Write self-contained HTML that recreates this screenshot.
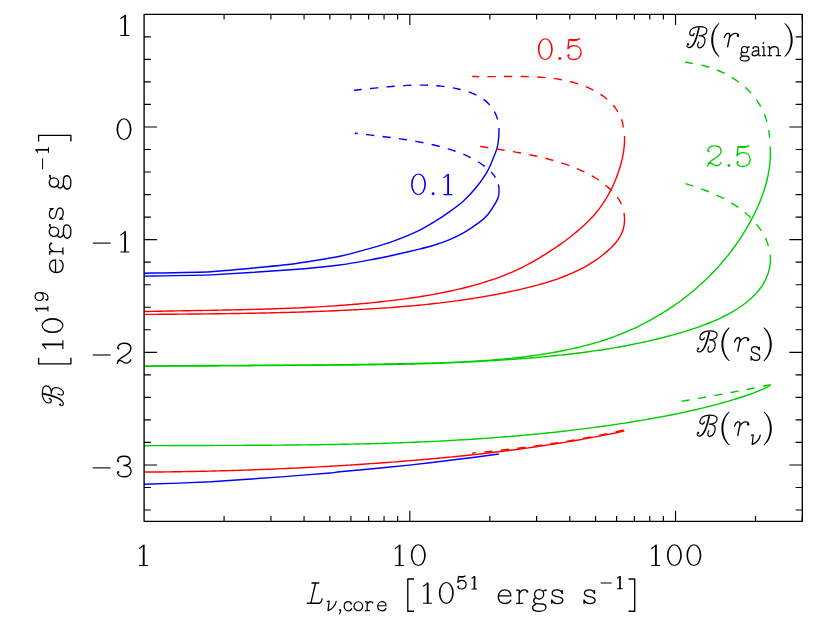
<!DOCTYPE html><html><head><meta charset="utf-8"><title>plot</title>
<style>html,body{margin:0;padding:0;background:#fff;overflow:hidden;}svg{display:block;position:absolute;left:0;top:0;}text{font-family:"Liberation Serif",serif;}.t{fill:#000;stroke:#fff;stroke-width:0.55px;}.c{fill:none;stroke-width:1.4;stroke-linecap:butt;stroke-linejoin:round;}</style></head><body>
<svg width="830" height="624" viewBox="0 0 830 624">
<desc>Plot of B [10^19 ergs g^-1] versus L_nu,core [10^51 ergs s^-1] (log axis 1, 10, 100; y axis 1, 0, -1, -2, -3). Curves labelled 0.1 (blue), 0.5 (red), 2.5 (green) for B(r_gain), B(r_S), B(r_nu).</desc>
<rect x="0" y="0" width="830" height="624" fill="#fff"/>
<g transform="translate(0,0.4)">
<path class="c" d="M354.00,89.90 C354.68,89.81 356.73,89.53 358.10,89.37 C359.46,89.22 360.82,89.11 362.19,88.98 C363.56,88.85 364.92,88.71 366.29,88.57 C367.66,88.43 369.03,88.29 370.41,88.15 C371.78,88.01 373.15,87.87 374.53,87.73 C375.91,87.59 377.28,87.45 378.66,87.31 C380.04,87.17 381.42,87.04 382.80,86.90 C384.18,86.77 385.57,86.63 386.95,86.51 C388.33,86.38 389.72,86.25 391.10,86.13 C392.48,86.02 393.87,85.90 395.26,85.79 C396.64,85.68 398.03,85.58 399.41,85.48 C400.80,85.39 402.19,85.29 403.57,85.21 C404.96,85.13 406.35,85.06 407.73,84.99 C409.12,84.93 410.51,84.87 411.89,84.83 C413.28,84.78 414.66,84.74 416.05,84.72 C417.43,84.70 418.82,84.68 420.20,84.68 C421.59,84.68 422.97,84.69 424.35,84.71 C425.73,84.74 427.11,84.77 428.49,84.82 C429.87,84.88 431.25,84.94 432.63,85.02 C434.01,85.10 435.38,85.20 436.76,85.31 C438.13,85.43 439.51,85.55 440.88,85.70 C442.25,85.85 443.62,86.01 444.99,86.19 C446.35,86.38 447.72,86.58 449.08,86.80 C450.45,87.02 451.81,87.26 453.17,87.52 C454.53,87.78 455.88,88.06 457.24,88.37 C458.59,88.67 459.95,88.99 461.29,89.34 C462.64,89.69 463.99,90.06 465.32,90.46 C466.66,90.86 467.99,91.29 469.29,91.75 C470.60,92.22 471.90,92.71 473.17,93.25 C474.44,93.78 475.70,94.35 476.92,94.97 C478.14,95.59 479.34,96.25 480.50,96.96 C481.66,97.67 482.80,98.43 483.89,99.24 C484.98,100.06 486.03,100.92 487.04,101.85 C488.05,102.77 489.01,103.76 489.92,104.80 C490.83,105.84 491.69,106.93 492.48,108.08 C493.27,109.23 494.01,110.43 494.68,111.68 C495.34,112.93 495.95,114.25 496.45,115.57 C496.96,116.89 497.49,118.93 497.70,119.60" stroke="#0000ff" stroke-dasharray="8.3 8.3" stroke-dashoffset="0.5"/>
<path class="c" d="M499.00,127.70 C498.98,128.36 498.90,134.67 498.80,136.00 C498.70,137.33 498.00,143.18 497.80,144.30 C497.60,145.42 497.12,147.88 496.30,150.00 C495.48,152.12 489.10,167.85 487.50,170.80 C485.90,173.75 478.22,184.52 476.30,186.90 C474.38,189.28 465.68,198.52 463.50,200.50 C461.32,202.48 451.31,210.04 449.00,211.70 C446.69,213.36 437.06,219.80 434.60,221.30 C432.14,222.80 421.53,228.96 418.30,230.50 C415.07,232.04 398.06,239.10 394.20,240.50 C390.34,241.90 374.44,246.78 370.10,248.00 C365.76,249.22 346.36,254.53 340.00,255.80 C333.64,257.07 300.92,262.66 290.60,263.90 C280.28,265.14 222.72,270.59 211.00,271.30 C199.28,272.01 149.45,272.68 144.10,272.80" stroke="#0000ff"/>
<path class="c" d="M354.90,132.80 C355.60,132.87 357.70,133.09 359.09,133.25 C360.47,133.41 361.83,133.60 363.20,133.77 C364.57,133.94 365.95,134.11 367.33,134.27 C368.71,134.44 370.09,134.61 371.47,134.78 C372.85,134.94 374.23,135.11 375.62,135.28 C377.00,135.45 378.39,135.61 379.78,135.78 C381.17,135.95 382.56,136.12 383.94,136.29 C385.33,136.47 386.73,136.64 388.12,136.82 C389.51,136.99 390.90,137.17 392.29,137.36 C393.68,137.54 395.08,137.72 396.47,137.91 C397.86,138.11 399.25,138.30 400.64,138.50 C402.04,138.70 403.43,138.90 404.82,139.11 C406.21,139.32 407.60,139.54 408.99,139.76 C410.38,139.98 411.77,140.21 413.15,140.44 C414.54,140.68 415.93,140.92 417.31,141.17 C418.69,141.42 420.08,141.68 421.46,141.94 C422.84,142.21 424.22,142.48 425.59,142.77 C426.97,143.05 428.34,143.34 429.72,143.65 C431.09,143.95 432.46,144.26 433.82,144.59 C435.19,144.91 436.55,145.24 437.91,145.59 C439.28,145.94 440.63,146.29 441.99,146.66 C443.34,147.03 444.69,147.41 446.04,147.80 C447.39,148.20 448.73,148.60 450.07,149.03 C451.41,149.45 452.74,149.88 454.07,150.33 C455.40,150.78 456.72,151.25 458.03,151.73 C459.35,152.22 460.65,152.72 461.95,153.24 C463.24,153.77 464.53,154.31 465.80,154.88 C467.07,155.44 468.33,156.03 469.58,156.64 C470.82,157.25 472.06,157.89 473.27,158.55 C474.49,159.21 475.69,159.90 476.87,160.61 C478.06,161.33 479.22,162.07 480.37,162.85 C481.51,163.62 482.64,164.43 483.75,165.26 C484.85,166.10 485.94,166.97 487.00,167.87 C488.06,168.77 489.09,169.71 490.11,170.68 C491.12,171.66 492.16,172.63 493.06,173.71 C493.96,174.80 495.09,176.62 495.50,177.20" stroke="#0000ff" stroke-dasharray="8.3 8.3" stroke-dashoffset="5.4"/>
<path class="c" d="M498.30,184.10 C498.36,184.37 498.97,186.64 499.00,187.50 C499.03,188.36 498.92,193.80 498.70,194.90 C498.48,196.00 497.20,199.72 496.30,201.30 C495.40,202.88 488.97,212.86 487.50,214.60 C486.03,216.34 479.82,221.58 477.90,223.00 C475.98,224.42 465.81,231.09 463.50,232.40 C461.19,233.71 451.31,238.42 449.00,239.40 C446.69,240.38 437.06,243.83 434.60,244.60 C432.14,245.37 421.53,248.20 418.30,249.00 C415.07,249.80 398.06,253.76 394.20,254.60 C390.34,255.44 374.44,258.70 370.10,259.50 C365.76,260.30 346.36,263.81 340.00,264.60 C333.64,265.39 300.92,268.61 290.60,269.40 C280.28,270.19 222.72,274.00 211.00,274.50 C199.28,275.00 149.45,275.60 144.10,275.70" stroke="#0000ff"/>
<path class="c" d="M144.10,483.90 C149.45,483.70 199.76,482.02 211.00,481.40 C222.24,480.78 275.08,476.90 284.60,476.20 C294.12,475.50 325.57,472.99 330.00,472.60 C334.43,472.21 335.34,471.76 340.00,471.30 C344.66,470.84 381.00,467.61 388.20,466.90 C395.40,466.19 423.06,463.21 430.00,462.40 C436.94,461.59 469.40,457.50 474.90,456.80 C480.40,456.10 496.89,453.86 498.80,453.60" stroke="#0000ff"/>
<path class="c" d="M472.20,76.10 C472.89,76.11 474.97,76.15 476.33,76.17 C477.69,76.19 479.00,76.22 480.34,76.24 C481.68,76.26 483.02,76.26 484.37,76.27 C485.72,76.28 487.07,76.28 488.43,76.27 C489.79,76.27 491.15,76.26 492.52,76.25 C493.88,76.24 495.25,76.23 496.62,76.21 C497.99,76.20 499.37,76.18 500.75,76.17 C502.12,76.15 503.50,76.14 504.89,76.12 C506.27,76.11 507.65,76.10 509.04,76.09 C510.42,76.08 511.81,76.07 513.20,76.06 C514.58,76.06 515.97,76.06 517.36,76.06 C518.75,76.07 520.14,76.07 521.53,76.09 C522.92,76.10 524.31,76.12 525.70,76.15 C527.09,76.18 528.49,76.22 529.87,76.26 C531.26,76.31 532.65,76.36 534.04,76.42 C535.42,76.48 536.81,76.56 538.19,76.64 C539.58,76.72 540.96,76.82 542.34,76.93 C543.72,77.03 545.10,77.15 546.47,77.28 C547.85,77.42 549.22,77.56 550.59,77.72 C551.96,77.89 553.32,78.06 554.68,78.25 C556.05,78.45 557.40,78.65 558.76,78.88 C560.11,79.10 561.46,79.35 562.81,79.61 C564.15,79.87 565.49,80.15 566.83,80.45 C568.16,80.75 569.49,81.06 570.82,81.40 C572.14,81.74 573.46,82.10 574.78,82.49 C576.09,82.87 577.40,83.28 578.70,83.70 C580.00,84.13 581.29,84.58 582.58,85.06 C583.86,85.54 585.15,86.04 586.42,86.57 C587.69,87.09 588.95,87.65 590.20,88.23 C591.45,88.81 592.69,89.41 593.91,90.05 C595.13,90.69 596.33,91.35 597.52,92.04 C598.70,92.74 599.86,93.46 601.00,94.21 C602.13,94.97 603.25,95.75 604.33,96.57 C605.41,97.39 606.47,98.24 607.48,99.12 C608.50,100.00 609.49,100.92 610.44,101.87 C611.39,102.82 612.31,103.80 613.18,104.82 C614.05,105.84 614.89,106.90 615.67,107.99 C616.46,109.08 617.20,110.21 617.90,111.38 C618.59,112.55 619.23,113.76 619.82,115.00 C620.41,116.25 620.96,117.53 621.43,118.86 C621.91,120.19 622.39,121.57 622.70,122.96 C623.01,124.35 623.20,126.49 623.30,127.20" stroke="#ff0000" stroke-dasharray="8.3 8.3" stroke-dashoffset="1.4"/>
<path class="c" d="M624.50,135.50 C624.51,136.18 624.58,138.21 624.56,139.56 C624.55,140.91 624.48,142.26 624.39,143.60 C624.30,144.94 624.18,146.29 624.03,147.62 C623.88,148.96 623.70,150.30 623.49,151.63 C623.28,152.96 623.05,154.28 622.79,155.61 C622.53,156.93 622.24,158.25 621.93,159.56 C621.62,160.88 621.28,162.19 620.93,163.49 C620.58,164.80 620.20,166.10 619.80,167.39 C619.40,168.69 618.99,169.98 618.55,171.26 C618.12,172.55 617.67,173.83 617.19,175.10 C616.72,176.37 616.23,177.64 615.73,178.89 C615.22,180.15 614.69,181.40 614.15,182.65 C613.60,183.89 613.04,185.12 612.46,186.35 C611.88,187.57 611.28,188.79 610.66,190.00 C610.04,191.20 609.41,192.40 608.75,193.58 C608.10,194.77 607.43,195.94 606.74,197.11 C606.05,198.27 605.34,199.42 604.61,200.56 C603.89,201.70 603.14,202.82 602.38,203.94 C601.61,205.05 600.83,206.15 600.03,207.23 C599.23,208.32 598.42,209.39 597.58,210.45 C596.74,211.50 595.89,212.54 595.02,213.57 C594.15,214.59 593.25,215.60 592.35,216.59 C591.44,217.59 590.51,218.56 589.57,219.53 C588.64,220.49 587.68,221.44 586.71,222.38 C585.74,223.31 584.76,224.24 583.77,225.15 C582.77,226.06 581.77,226.96 580.75,227.85 C579.74,228.74 578.71,229.62 577.68,230.49 C576.65,231.37 575.61,232.23 574.56,233.08 C573.51,233.94 572.45,234.78 571.39,235.62 C570.33,236.46 569.26,237.28 568.18,238.10 C567.10,238.92 566.02,239.74 564.93,240.54 C563.84,241.34 562.75,242.14 561.64,242.93 C560.54,243.72 559.44,244.50 558.32,245.27 C557.21,246.04 556.09,246.81 554.97,247.56 C553.85,248.32 552.72,249.07 551.59,249.81 C550.46,250.55 549.32,251.29 548.18,252.02 C547.04,252.75 545.90,253.47 544.75,254.18 C543.60,254.89 542.45,255.60 541.30,256.30 C540.14,257.00 538.99,257.70 537.83,258.38 C536.67,259.07 535.50,259.75 534.34,260.42 C533.17,261.09 532.00,261.76 530.82,262.41 C529.65,263.07 528.47,263.71 527.28,264.35 C526.10,264.98 524.91,265.61 523.71,266.22 C522.52,266.83 521.31,267.44 520.10,268.03 C518.89,268.62 517.68,269.19 516.45,269.76 C515.23,270.33 514.00,270.88 512.77,271.42 C511.53,271.97 510.29,272.50 509.04,273.02 C507.80,273.54 506.55,274.05 505.29,274.55 C504.03,275.05 502.77,275.53 501.50,276.01 C500.24,276.49 498.96,276.96 497.69,277.42 C496.42,277.88 495.14,278.33 493.85,278.77 C492.57,279.21 491.29,279.64 490.00,280.06 C488.71,280.49 487.42,280.90 486.12,281.31 C484.83,281.71 483.53,282.11 482.23,282.50 C480.94,282.89 479.63,283.28 478.33,283.65 C477.03,284.03 475.73,284.40 474.42,284.76 C473.12,285.12 471.81,285.48 470.51,285.82 C469.20,286.17 467.89,286.51 466.58,286.85 C465.27,287.18 463.96,287.51 462.64,287.83 C461.33,288.15 460.02,288.47 458.70,288.78 C457.39,289.09 456.07,289.39 454.75,289.69 C453.44,289.99 452.12,290.28 450.80,290.56 C449.48,290.85 448.16,291.13 446.84,291.40 C445.51,291.68 444.19,291.95 442.87,292.21 C441.54,292.48 440.22,292.73 438.89,292.99 C437.57,293.24 436.24,293.49 434.91,293.73 C433.59,293.97 432.26,294.21 430.93,294.45 C429.60,294.68 428.27,294.91 426.94,295.13 C425.61,295.36 424.28,295.58 422.94,295.79 C421.61,296.01 420.28,296.22 418.94,296.43 C417.61,296.63 416.28,296.84 414.94,297.04 C413.61,297.24 412.27,297.43 410.94,297.62 C409.60,297.81 408.26,298.00 406.93,298.19 C405.59,298.37 404.25,298.55 402.92,298.73 C401.58,298.91 400.24,299.08 398.90,299.25 C397.56,299.43 396.22,299.59 394.88,299.76 C393.55,299.92 392.21,300.09 390.87,300.25 C389.53,300.41 388.19,300.56 386.85,300.72 C385.51,300.87 384.16,301.02 382.82,301.17 C381.48,301.32 380.14,301.47 378.80,301.61 C377.46,301.75 376.12,301.89 374.77,302.03 C373.43,302.17 372.09,302.30 370.75,302.44 C369.40,302.57 368.06,302.70 366.72,302.83 C365.37,302.96 364.03,303.08 362.69,303.20 C361.34,303.33 360.00,303.45 358.65,303.56 C357.31,303.68 355.97,303.80 354.62,303.91 C353.28,304.03 351.93,304.14 350.59,304.24 C349.24,304.35 347.90,304.46 346.55,304.56 C345.20,304.67 343.86,304.77 342.51,304.87 C341.17,304.97 339.82,305.07 338.47,305.16 C337.13,305.26 335.78,305.35 334.43,305.45 C333.09,305.54 331.74,305.63 330.39,305.71 C329.04,305.80 327.70,305.89 326.35,305.97 C325.00,306.06 323.65,306.14 322.31,306.22 C320.96,306.30 319.61,306.38 318.26,306.45 C316.91,306.53 315.56,306.60 314.22,306.68 C312.87,306.75 311.52,306.82 310.17,306.89 C308.82,306.96 307.47,307.03 306.12,307.09 C304.77,307.16 303.42,307.23 302.07,307.29 C300.72,307.35 299.37,307.41 298.02,307.47 C296.67,307.53 295.32,307.59 293.97,307.65 C292.62,307.71 291.27,307.76 289.92,307.82 C288.57,307.87 287.22,307.93 285.87,307.98 C284.52,308.03 283.17,308.08 281.82,308.13 C280.47,308.18 279.12,308.23 277.77,308.27 C276.42,308.32 275.07,308.37 273.72,308.41 C272.37,308.46 271.02,308.50 269.67,308.54 C268.31,308.58 266.96,308.62 265.61,308.67 C264.26,308.71 262.91,308.75 261.56,308.78 C260.21,308.82 258.86,308.86 257.51,308.90 C256.15,308.93 254.80,308.97 253.45,309.00 C252.10,309.04 250.75,309.07 249.40,309.11 C248.05,309.14 246.70,309.17 245.34,309.20 C243.99,309.23 242.64,309.27 241.29,309.30 C239.94,309.33 238.59,309.36 237.24,309.39 C235.88,309.42 234.53,309.44 233.18,309.47 C231.83,309.50 230.48,309.53 229.13,309.55 C227.78,309.58 226.43,309.61 225.07,309.63 C223.72,309.66 222.37,309.69 221.02,309.71 C219.67,309.74 218.32,309.76 216.97,309.79 C215.62,309.81 214.27,309.84 212.92,309.86 C211.56,309.89 210.21,309.91 208.86,309.93 C207.51,309.96 206.16,309.98 204.81,310.01 C203.46,310.03 202.11,310.05 200.76,310.08 C199.41,310.10 198.06,310.12 196.71,310.15 C195.36,310.17 194.01,310.19 192.66,310.22 C191.31,310.24 189.96,310.26 188.61,310.29 C187.26,310.31 185.91,310.34 184.56,310.36 C183.21,310.38 181.86,310.41 180.51,310.43 C179.16,310.46 177.81,310.48 176.46,310.51 C175.11,310.53 173.76,310.56 172.42,310.58 C171.07,310.61 169.72,310.64 168.37,310.66 C167.02,310.69 165.67,310.72 164.32,310.74 C162.98,310.77 161.63,310.80 160.28,310.83 C158.93,310.86 157.59,310.88 156.24,310.91 C154.89,310.94 153.54,310.97 152.20,311.00 C150.85,311.04 149.50,311.08 148.16,311.10 C146.81,311.12 144.78,311.10 144.10,311.10" stroke="#ff0000"/>
<path class="c" d="M480.10,146.00 C480.79,146.11 482.85,146.44 484.22,146.65 C485.58,146.87 486.92,147.08 488.27,147.29 C489.63,147.50 490.98,147.71 492.34,147.92 C493.70,148.13 495.06,148.35 496.42,148.56 C497.78,148.77 499.14,148.99 500.50,149.20 C501.86,149.42 503.23,149.63 504.59,149.86 C505.96,150.08 507.32,150.30 508.69,150.52 C510.05,150.75 511.42,150.98 512.78,151.21 C514.15,151.44 515.51,151.68 516.88,151.92 C518.24,152.16 519.61,152.41 520.97,152.66 C522.34,152.91 523.70,153.17 525.06,153.43 C526.43,153.69 527.79,153.96 529.15,154.24 C530.51,154.51 531.87,154.80 533.23,155.08 C534.58,155.37 535.94,155.67 537.29,155.97 C538.65,156.28 540.00,156.59 541.35,156.91 C542.70,157.23 544.05,157.56 545.40,157.90 C546.74,158.24 548.09,158.59 549.43,158.95 C550.77,159.31 552.10,159.68 553.44,160.06 C554.77,160.44 556.11,160.83 557.43,161.23 C558.76,161.64 560.09,162.05 561.41,162.47 C562.73,162.90 564.05,163.34 565.36,163.79 C566.67,164.24 567.98,164.70 569.29,165.18 C570.59,165.66 571.89,166.15 573.19,166.66 C574.48,167.16 575.77,167.68 577.06,168.22 C578.34,168.75 579.61,169.31 580.88,169.88 C582.14,170.45 583.40,171.03 584.65,171.64 C585.89,172.24 587.13,172.86 588.35,173.51 C589.57,174.15 590.78,174.81 591.98,175.50 C593.17,176.18 594.36,176.88 595.52,177.61 C596.69,178.34 597.84,179.08 598.97,179.86 C600.10,180.63 601.21,181.42 602.30,182.25 C603.40,183.07 604.47,183.91 605.52,184.78 C606.57,185.65 607.60,186.55 608.61,187.48 C609.62,188.40 610.60,189.35 611.56,190.33 C612.52,191.31 613.46,192.32 614.36,193.36 C615.27,194.40 616.15,195.47 617.00,196.56 C617.86,197.66 618.74,198.77 619.47,199.96 C620.21,201.15 621.08,203.08 621.40,203.70" stroke="#ff0000" stroke-dasharray="8.3 8.3" stroke-dashoffset="0.0"/>
<path class="c" d="M624.00,212.50 C624.07,213.18 624.35,215.18 624.44,216.55 C624.52,217.93 624.56,219.36 624.50,220.74 C624.44,222.12 624.30,223.50 624.09,224.85 C623.87,226.19 623.57,227.52 623.20,228.80 C622.82,230.08 622.36,231.33 621.84,232.55 C621.32,233.77 620.71,234.95 620.06,236.10 C619.40,237.25 618.68,238.36 617.91,239.45 C617.15,240.54 616.32,241.60 615.46,242.64 C614.60,243.67 613.68,244.67 612.75,245.65 C611.81,246.64 610.84,247.59 609.84,248.52 C608.85,249.46 607.83,250.36 606.80,251.25 C605.77,252.14 604.72,253.01 603.67,253.86 C602.61,254.71 601.55,255.54 600.47,256.35 C599.39,257.16 598.30,257.95 597.20,258.72 C596.10,259.49 594.99,260.25 593.87,260.98 C592.75,261.72 591.62,262.44 590.48,263.14 C589.34,263.84 588.19,264.53 587.03,265.20 C585.87,265.86 584.71,266.52 583.53,267.15 C582.35,267.79 581.17,268.41 579.98,269.02 C578.78,269.62 577.58,270.21 576.37,270.79 C575.17,271.37 573.95,271.93 572.73,272.48 C571.50,273.03 570.27,273.56 569.04,274.08 C567.80,274.61 566.56,275.11 565.31,275.61 C564.06,276.11 562.80,276.59 561.54,277.07 C560.28,277.54 559.02,278.00 557.74,278.45 C556.47,278.90 555.20,279.34 553.92,279.77 C552.63,280.20 551.35,280.62 550.06,281.03 C548.77,281.44 547.47,281.84 546.18,282.23 C544.88,282.62 543.58,283.00 542.27,283.38 C540.97,283.75 539.66,284.12 538.35,284.48 C537.04,284.83 535.73,285.19 534.41,285.53 C533.10,285.87 531.78,286.21 530.46,286.54 C529.14,286.87 527.82,287.20 526.50,287.52 C525.18,287.83 523.86,288.15 522.54,288.46 C521.21,288.77 519.89,289.07 518.56,289.37 C517.24,289.67 515.92,289.96 514.59,290.26 C513.27,290.55 511.94,290.83 510.62,291.12 C509.29,291.40 507.96,291.68 506.64,291.95 C505.31,292.22 503.99,292.49 502.66,292.76 C501.33,293.03 500.00,293.29 498.68,293.55 C497.35,293.80 496.02,294.06 494.69,294.31 C493.37,294.56 492.04,294.80 490.71,295.04 C489.38,295.29 488.05,295.52 486.72,295.76 C485.39,295.99 484.06,296.22 482.73,296.45 C481.40,296.68 480.07,296.90 478.74,297.12 C477.41,297.34 476.08,297.56 474.75,297.77 C473.42,297.98 472.09,298.19 470.76,298.40 C469.42,298.60 468.09,298.80 466.76,299.00 C465.43,299.20 464.09,299.40 462.76,299.59 C461.43,299.78 460.10,299.97 458.76,300.15 C457.43,300.34 456.10,300.52 454.76,300.70 C453.43,300.88 452.09,301.05 450.76,301.23 C449.42,301.40 448.09,301.57 446.75,301.74 C445.42,301.90 444.08,302.07 442.75,302.23 C441.41,302.39 440.08,302.55 438.74,302.70 C437.41,302.86 436.07,303.01 434.73,303.16 C433.40,303.31 432.06,303.45 430.72,303.60 C429.39,303.74 428.05,303.88 426.71,304.02 C425.37,304.16 424.04,304.29 422.70,304.43 C421.36,304.56 420.02,304.69 418.68,304.82 C417.34,304.95 416.01,305.08 414.67,305.20 C413.33,305.32 411.99,305.44 410.65,305.56 C409.31,305.68 407.97,305.80 406.63,305.91 C405.29,306.03 403.95,306.14 402.61,306.25 C401.27,306.36 399.93,306.47 398.59,306.57 C397.25,306.68 395.91,306.78 394.57,306.88 C393.23,306.98 391.88,307.08 390.54,307.18 C389.20,307.28 387.86,307.38 386.52,307.47 C385.18,307.56 383.83,307.66 382.49,307.75 C381.15,307.84 379.81,307.93 378.46,308.01 C377.12,308.10 375.78,308.18 374.43,308.27 C373.09,308.35 371.75,308.43 370.41,308.51 C369.06,308.59 367.72,308.67 366.37,308.75 C365.03,308.83 363.69,308.90 362.34,308.98 C361.00,309.05 359.65,309.13 358.31,309.20 C356.97,309.27 355.62,309.34 354.28,309.41 C352.93,309.48 351.59,309.55 350.24,309.62 C348.90,309.68 347.55,309.75 346.21,309.81 C344.86,309.88 343.51,309.94 342.17,310.00 C340.82,310.07 339.48,310.13 338.13,310.19 C336.78,310.25 335.44,310.31 334.09,310.37 C332.75,310.43 331.40,310.48 330.05,310.54 C328.71,310.60 327.36,310.65 326.01,310.71 C324.67,310.76 323.32,310.81 321.97,310.87 C320.63,310.92 319.28,310.97 317.93,311.02 C316.58,311.07 315.24,311.12 313.89,311.17 C312.54,311.22 311.19,311.27 309.85,311.31 C308.50,311.36 307.15,311.40 305.80,311.45 C304.46,311.49 303.11,311.54 301.76,311.58 C300.41,311.63 299.06,311.67 297.72,311.71 C296.37,311.75 295.02,311.79 293.67,311.83 C292.32,311.87 290.98,311.91 289.63,311.95 C288.28,311.99 286.93,312.02 285.58,312.06 C284.23,312.10 282.89,312.13 281.54,312.17 C280.19,312.20 278.84,312.24 277.49,312.27 C276.14,312.31 274.79,312.34 273.45,312.37 C272.10,312.40 270.75,312.44 269.40,312.47 C268.05,312.50 266.70,312.53 265.35,312.56 C264.00,312.59 262.66,312.62 261.31,312.64 C259.96,312.67 258.61,312.70 257.26,312.73 C255.91,312.75 254.56,312.78 253.21,312.81 C251.87,312.83 250.52,312.86 249.17,312.88 C247.82,312.91 246.47,312.93 245.12,312.95 C243.77,312.98 242.42,313.00 241.08,313.02 C239.73,313.04 238.38,313.07 237.03,313.09 C235.68,313.11 234.33,313.13 232.98,313.15 C231.64,313.17 230.29,313.19 228.94,313.21 C227.59,313.23 226.24,313.25 224.89,313.27 C223.55,313.29 222.20,313.30 220.85,313.32 C219.50,313.34 218.15,313.36 216.80,313.37 C215.46,313.39 214.11,313.41 212.76,313.42 C211.41,313.44 210.06,313.45 208.72,313.47 C207.37,313.48 206.02,313.50 204.67,313.51 C203.33,313.53 201.98,313.54 200.63,313.56 C199.28,313.57 197.94,313.58 196.59,313.60 C195.24,313.61 193.89,313.62 192.55,313.64 C191.20,313.65 189.85,313.66 188.51,313.67 C187.16,313.69 185.81,313.70 184.47,313.71 C183.12,313.72 181.77,313.73 180.43,313.74 C179.08,313.76 177.74,313.77 176.39,313.78 C175.04,313.79 173.70,313.80 172.35,313.81 C171.01,313.82 169.66,313.83 168.32,313.84 C166.97,313.85 165.62,313.86 164.28,313.87 C162.93,313.88 161.59,313.89 160.24,313.90 C158.90,313.91 157.56,313.92 156.21,313.93 C154.87,313.94 153.52,313.95 152.18,313.96 C150.83,313.97 149.49,313.98 148.15,313.99 C146.80,314.00 144.77,314.00 144.10,314.00" stroke="#ff0000"/>
<path class="c" d="M144.10,471.60 C144.78,471.61 146.82,471.66 148.17,471.66 C149.52,471.67 150.87,471.64 152.22,471.63 C153.58,471.62 154.93,471.61 156.28,471.59 C157.63,471.58 158.98,471.57 160.34,471.55 C161.69,471.54 163.04,471.52 164.39,471.51 C165.74,471.49 167.09,471.47 168.45,471.46 C169.80,471.44 171.15,471.42 172.50,471.40 C173.85,471.39 175.20,471.37 176.56,471.35 C177.91,471.33 179.26,471.30 180.61,471.28 C181.96,471.26 183.32,471.24 184.67,471.22 C186.02,471.19 187.37,471.17 188.72,471.15 C190.08,471.12 191.43,471.10 192.78,471.07 C194.13,471.04 195.48,471.02 196.83,470.99 C198.19,470.96 199.54,470.93 200.89,470.91 C202.24,470.88 203.59,470.85 204.95,470.82 C206.30,470.79 207.65,470.76 209.00,470.72 C210.35,470.69 211.71,470.66 213.06,470.63 C214.41,470.59 215.76,470.56 217.11,470.52 C218.46,470.49 219.82,470.45 221.17,470.42 C222.52,470.38 223.87,470.34 225.22,470.31 C226.58,470.27 227.93,470.23 229.28,470.19 C230.63,470.15 231.98,470.11 233.33,470.07 C234.69,470.03 236.04,469.99 237.39,469.95 C238.74,469.90 240.09,469.86 241.45,469.82 C242.80,469.77 244.15,469.73 245.50,469.68 C246.85,469.64 248.20,469.59 249.56,469.54 C250.91,469.50 252.26,469.45 253.61,469.40 C254.96,469.35 256.31,469.30 257.67,469.25 C259.02,469.20 260.37,469.15 261.72,469.10 C263.07,469.05 264.42,469.00 265.78,468.95 C267.13,468.89 268.48,468.84 269.83,468.78 C271.18,468.73 272.53,468.67 273.88,468.62 C275.24,468.56 276.59,468.51 277.94,468.45 C279.29,468.39 280.64,468.33 281.99,468.27 C283.34,468.21 284.70,468.15 286.05,468.09 C287.40,468.03 288.75,467.97 290.10,467.91 C291.45,467.85 292.80,467.78 294.15,467.72 C295.51,467.66 296.86,467.59 298.21,467.53 C299.56,467.46 300.91,467.40 302.26,467.33 C303.61,467.26 304.96,467.19 306.31,467.13 C307.67,467.06 309.02,466.99 310.37,466.92 C311.72,466.85 313.07,466.78 314.42,466.71 C315.77,466.63 317.12,466.56 318.47,466.49 C319.82,466.41 321.17,466.34 322.53,466.27 C323.88,466.19 325.23,466.12 326.58,466.04 C327.93,465.96 329.28,465.89 330.63,465.81 C331.98,465.73 333.33,465.65 334.68,465.57 C336.03,465.49 337.38,465.41 338.73,465.33 C340.08,465.25 341.43,465.17 342.78,465.09 C344.13,465.00 345.49,464.92 346.84,464.83 C348.19,464.75 349.54,464.66 350.89,464.58 C352.24,464.49 353.59,464.41 354.94,464.32 C356.29,464.23 357.64,464.14 358.99,464.05 C360.34,463.96 361.69,463.87 363.04,463.78 C364.39,463.69 365.74,463.60 367.09,463.51 C368.44,463.42 369.79,463.32 371.14,463.23 C372.49,463.14 373.83,463.04 375.18,462.94 C376.53,462.85 377.88,462.75 379.23,462.66 C380.58,462.56 381.93,462.46 383.28,462.36 C384.63,462.26 385.98,462.16 387.33,462.06 C388.68,461.96 390.03,461.86 391.38,461.76 C392.73,461.66 394.08,461.55 395.42,461.45 C396.77,461.34 398.12,461.24 399.47,461.13 C400.82,461.03 402.17,460.92 403.52,460.81 C404.87,460.71 406.21,460.60 407.56,460.49 C408.91,460.38 410.26,460.27 411.61,460.16 C412.96,460.05 414.31,459.93 415.65,459.82 C417.00,459.71 418.35,459.59 419.70,459.48 C421.05,459.36 422.39,459.25 423.74,459.13 C425.09,459.01 426.44,458.89 427.79,458.78 C429.13,458.66 430.48,458.54 431.83,458.41 C433.18,458.29 434.52,458.17 435.87,458.05 C437.22,457.92 438.56,457.80 439.91,457.67 C441.26,457.55 442.60,457.42 443.95,457.29 C445.30,457.16 446.64,457.03 447.99,456.90 C449.34,456.77 450.68,456.64 452.03,456.51 C453.38,456.37 454.72,456.24 456.07,456.10 C457.41,455.97 458.76,455.83 460.10,455.69 C461.45,455.56 462.80,455.42 464.14,455.28 C465.49,455.14 466.83,454.99 468.18,454.85 C469.52,454.71 470.86,454.56 472.21,454.42 C473.55,454.27 474.90,454.13 476.24,453.98 C477.59,453.83 478.93,453.68 480.27,453.53 C481.62,453.38 482.96,453.22 484.31,453.07 C485.65,452.92 486.99,452.76 488.34,452.60 C489.68,452.45 491.02,452.29 492.36,452.13 C493.71,451.97 495.05,451.81 496.39,451.65 C497.73,451.48 499.08,451.32 500.42,451.15 C501.76,450.99 503.10,450.82 504.44,450.65 C505.78,450.48 507.13,450.31 508.47,450.14 C509.81,449.97 511.15,449.80 512.49,449.62 C513.83,449.45 515.17,449.27 516.51,449.09 C517.85,448.91 519.19,448.73 520.53,448.55 C521.87,448.37 523.21,448.19 524.55,448.00 C525.89,447.82 527.23,447.63 528.56,447.44 C529.90,447.26 531.24,447.07 532.58,446.88 C533.92,446.68 535.26,446.49 536.59,446.30 C537.93,446.10 539.27,445.91 540.61,445.71 C541.94,445.51 543.28,445.31 544.62,445.11 C545.95,444.90 547.29,444.70 548.63,444.50 C549.96,444.29 551.30,444.08 552.63,443.87 C553.97,443.67 555.30,443.45 556.64,443.24 C557.97,443.03 559.31,442.81 560.64,442.60 C561.98,442.38 563.31,442.16 564.65,441.94 C565.98,441.72 567.31,441.50 568.65,441.28 C569.98,441.05 571.31,440.83 572.65,440.60 C573.98,440.37 575.31,440.14 576.64,439.91 C577.97,439.68 579.31,439.44 580.64,439.21 C581.97,438.97 583.30,438.73 584.63,438.49 C585.96,438.25 587.29,438.01 588.62,437.77 C589.95,437.52 591.28,437.28 592.61,437.03 C593.94,436.78 595.27,436.53 596.60,436.28 C597.93,436.03 599.25,435.77 600.58,435.52 C601.91,435.26 603.24,435.00 604.57,434.74 C605.89,434.48 607.22,434.22 608.55,433.95 C609.87,433.69 611.20,433.42 612.53,433.15 C613.85,432.88 615.18,432.61 616.50,432.33 C617.83,432.06 619.16,431.83 620.48,431.51 C621.79,431.18 623.75,430.58 624.40,430.40" stroke="#ff0000"/>
<path class="c" d="M471.90,452.70 C472.59,452.64 474.67,452.45 476.05,452.32 C477.44,452.19 478.82,452.06 480.21,451.92 C481.59,451.79 482.98,451.66 484.36,451.52 C485.74,451.39 487.13,451.25 488.51,451.11 C489.90,450.97 491.28,450.83 492.66,450.68 C494.05,450.54 495.43,450.39 496.81,450.24 C498.20,450.10 499.58,449.95 500.96,449.79 C502.34,449.64 503.73,449.49 505.11,449.33 C506.49,449.18 507.87,449.02 509.25,448.86 C510.64,448.70 512.02,448.54 513.40,448.37 C514.78,448.21 516.16,448.04 517.54,447.87 C518.92,447.71 520.30,447.53 521.68,447.36 C523.06,447.19 524.44,447.01 525.82,446.84 C527.20,446.66 528.58,446.48 529.96,446.30 C531.34,446.11 532.72,445.93 534.10,445.74 C535.48,445.55 536.85,445.36 538.23,445.17 C539.61,444.98 540.99,444.79 542.36,444.59 C543.74,444.39 545.12,444.19 546.49,443.99 C547.87,443.79 549.25,443.59 550.62,443.38 C552.00,443.17 553.37,442.96 554.75,442.75 C556.12,442.54 557.49,442.32 558.87,442.10 C560.24,441.89 561.61,441.67 562.99,441.44 C564.36,441.22 565.73,440.99 567.10,440.77 C568.48,440.54 569.85,440.31 571.22,440.07 C572.59,439.84 573.96,439.60 575.33,439.36 C576.70,439.12 578.07,438.88 579.44,438.63 C580.81,438.39 582.18,438.14 583.54,437.89 C584.91,437.64 586.28,437.38 587.65,437.12 C589.01,436.87 590.38,436.60 591.74,436.34 C593.11,436.08 594.47,435.81 595.84,435.54 C597.20,435.27 598.57,435.00 599.93,434.72 C601.29,434.45 602.66,434.17 604.02,433.88 C605.38,433.60 606.74,433.32 608.10,433.03 C609.46,432.74 610.82,432.45 612.18,432.15 C613.54,431.85 614.90,431.56 616.26,431.25 C617.62,430.95 618.97,430.65 620.33,430.34 C621.69,430.03 623.72,429.56 624.40,429.40" stroke="#ff0000" stroke-dasharray="8.3 8.3" stroke-dashoffset="4.2"/>
<path class="c" d="M684.90,61.70 C685.59,61.81 687.66,62.16 689.06,62.38 C690.45,62.61 691.85,62.79 693.25,63.03 C694.65,63.27 696.05,63.54 697.45,63.83 C698.84,64.12 700.24,64.44 701.63,64.78 C703.02,65.12 704.41,65.49 705.80,65.88 C707.18,66.28 708.56,66.70 709.93,67.14 C711.30,67.59 712.66,68.06 714.01,68.56 C715.37,69.05 716.71,69.58 718.04,70.12 C719.37,70.67 720.70,71.25 722.00,71.85 C723.31,72.45 724.60,73.08 725.88,73.73 C727.16,74.38 728.42,75.06 729.67,75.77 C730.91,76.47 732.14,77.20 733.35,77.96 C734.56,78.72 735.75,79.51 736.92,80.32 C738.09,81.13 739.24,81.96 740.36,82.83 C741.48,83.69 742.58,84.58 743.66,85.50 C744.73,86.41 745.79,87.36 746.81,88.33 C747.83,89.30 748.83,90.30 749.80,91.32 C750.76,92.34 751.70,93.39 752.61,94.47 C753.51,95.54 754.39,96.65 755.24,97.77 C756.08,98.90 756.89,100.05 757.67,101.23 C758.45,102.40 759.20,103.60 759.90,104.82 C760.61,106.04 761.29,107.28 761.93,108.54 C762.57,109.81 763.17,111.09 763.73,112.40 C764.29,113.70 764.82,115.02 765.31,116.37 C765.79,117.71 766.24,119.07 766.64,120.45 C767.05,121.82 767.41,123.22 767.74,124.63 C768.06,126.04 768.34,127.47 768.57,128.91 C768.81,130.35 768.97,131.85 769.15,133.28 C769.32,134.71 769.52,136.80 769.60,137.50" stroke="#00cd00" stroke-dasharray="8.3 8.3" stroke-dashoffset="0.0"/>
<path class="c" d="M770.20,146.00 C770.23,146.68 770.33,148.70 770.36,150.06 C770.39,151.41 770.39,152.78 770.37,154.14 C770.35,155.50 770.30,156.85 770.22,158.20 C770.15,159.54 770.05,160.89 769.93,162.22 C769.81,163.56 769.66,164.90 769.49,166.23 C769.33,167.56 769.14,168.88 768.92,170.20 C768.71,171.52 768.47,172.84 768.22,174.15 C767.96,175.46 767.69,176.77 767.39,178.07 C767.09,179.37 766.77,180.67 766.44,181.96 C766.10,183.25 765.74,184.54 765.37,185.82 C765.00,187.10 764.60,188.38 764.19,189.65 C763.78,190.92 763.36,192.19 762.91,193.45 C762.47,194.72 762.01,195.97 761.53,197.23 C761.05,198.48 760.56,199.73 760.05,200.97 C759.55,202.21 759.03,203.45 758.49,204.68 C757.95,205.91 757.40,207.14 756.84,208.36 C756.28,209.58 755.70,210.79 755.11,212.00 C754.53,213.22 753.93,214.42 753.31,215.62 C752.70,216.82 752.08,218.01 751.45,219.20 C750.81,220.39 750.17,221.57 749.52,222.75 C748.86,223.93 748.20,225.10 747.52,226.27 C746.85,227.43 746.16,228.59 745.47,229.75 C744.77,230.90 744.07,232.05 743.35,233.19 C742.64,234.33 741.91,235.47 741.18,236.60 C740.45,237.73 739.70,238.85 738.95,239.97 C738.19,241.08 737.43,242.19 736.66,243.30 C735.88,244.40 735.10,245.50 734.31,246.59 C733.52,247.68 732.72,248.76 731.91,249.84 C731.10,250.91 730.28,251.98 729.46,253.05 C728.63,254.11 727.79,255.16 726.95,256.21 C726.10,257.26 725.25,258.30 724.39,259.34 C723.52,260.37 722.65,261.40 721.77,262.42 C720.90,263.44 720.01,264.45 719.11,265.45 C718.22,266.45 717.31,267.45 716.40,268.44 C715.49,269.43 714.57,270.41 713.64,271.38 C712.72,272.35 711.78,273.32 710.84,274.28 C709.90,275.23 708.95,276.18 707.99,277.12 C707.03,278.06 706.06,278.99 705.09,279.92 C704.12,280.84 703.14,281.76 702.15,282.67 C701.16,283.57 700.17,284.47 699.17,285.36 C698.17,286.26 697.16,287.14 696.14,288.01 C695.13,288.89 694.10,289.76 693.07,290.62 C692.05,291.48 691.01,292.33 689.97,293.17 C688.92,294.01 687.88,294.85 686.82,295.67 C685.76,296.50 684.70,297.32 683.63,298.13 C682.56,298.94 681.49,299.75 680.41,300.54 C679.33,301.34 678.24,302.12 677.15,302.90 C676.05,303.68 674.95,304.45 673.85,305.21 C672.74,305.98 671.63,306.73 670.52,307.48 C669.40,308.23 668.28,308.97 667.15,309.70 C666.02,310.43 664.89,311.15 663.75,311.87 C662.61,312.58 661.46,313.29 660.31,313.99 C659.16,314.69 658.01,315.38 656.85,316.06 C655.69,316.74 654.52,317.41 653.35,318.08 C652.18,318.74 651.00,319.40 649.82,320.05 C648.64,320.69 647.46,321.33 646.27,321.96 C645.08,322.59 643.88,323.21 642.68,323.82 C641.48,324.43 640.28,325.04 639.07,325.63 C637.86,326.22 636.65,326.81 635.43,327.38 C634.22,327.96 633.00,328.52 631.77,329.08 C630.55,329.63 629.32,330.18 628.08,330.72 C626.85,331.25 625.61,331.78 624.37,332.30 C623.13,332.81 621.89,333.32 620.64,333.82 C619.39,334.32 618.14,334.80 616.89,335.28 C615.63,335.76 614.37,336.23 613.11,336.68 C611.85,337.14 610.58,337.59 609.32,338.03 C608.05,338.47 606.78,338.90 605.50,339.32 C604.23,339.74 602.95,340.15 601.67,340.56 C600.39,340.96 599.11,341.35 597.82,341.74 C596.54,342.13 595.25,342.51 593.96,342.88 C592.67,343.25 591.37,343.61 590.08,343.96 C588.78,344.32 587.49,344.66 586.19,345.00 C584.89,345.34 583.59,345.67 582.28,346.00 C580.98,346.32 579.67,346.64 578.37,346.95 C577.06,347.26 575.75,347.56 574.44,347.86 C573.13,348.15 571.81,348.44 570.50,348.72 C569.19,349.01 567.87,349.28 566.56,349.55 C565.24,349.83 563.92,350.09 562.60,350.35 C561.28,350.61 559.96,350.86 558.64,351.11 C557.32,351.36 556.00,351.60 554.68,351.83 C553.35,352.07 552.03,352.30 550.71,352.53 C549.38,352.75 548.06,352.98 546.73,353.19 C545.41,353.41 544.08,353.62 542.75,353.83 C541.43,354.03 540.10,354.24 538.77,354.43 C537.44,354.63 536.11,354.82 534.79,355.01 C533.46,355.20 532.13,355.38 530.80,355.56 C529.47,355.74 528.13,355.92 526.80,356.09 C525.47,356.26 524.14,356.42 522.81,356.59 C521.47,356.75 520.14,356.91 518.81,357.06 C517.47,357.21 516.14,357.36 514.81,357.51 C513.47,357.66 512.14,357.80 510.80,357.94 C509.47,358.07 508.13,358.21 506.79,358.34 C505.46,358.47 504.12,358.60 502.78,358.72 C501.45,358.84 500.11,358.96 498.77,359.08 C497.43,359.20 496.09,359.31 494.75,359.42 C493.42,359.53 492.08,359.64 490.74,359.74 C489.40,359.85 488.06,359.95 486.72,360.04 C485.38,360.14 484.04,360.24 482.69,360.33 C481.35,360.42 480.01,360.51 478.67,360.59 C477.33,360.68 475.99,360.76 474.65,360.84 C473.30,360.92 471.96,361.00 470.62,361.08 C469.28,361.15 467.93,361.22 466.59,361.29 C465.25,361.36 463.90,361.43 462.56,361.50 C461.22,361.56 459.87,361.63 458.53,361.69 C457.18,361.75 455.84,361.81 454.50,361.87 C453.15,361.92 451.81,361.98 450.46,362.03 C449.12,362.08 447.77,362.13 446.43,362.18 C445.08,362.23 443.74,362.28 442.39,362.33 C441.05,362.37 439.70,362.42 438.36,362.46 C437.01,362.50 435.67,362.54 434.32,362.58 C432.98,362.62 431.63,362.66 430.28,362.70 C428.94,362.74 427.59,362.77 426.25,362.81 C424.90,362.84 423.56,362.88 422.21,362.91 C420.87,362.94 419.52,362.97 418.17,363.00 C416.83,363.03 415.48,363.06 414.14,363.09 C412.79,363.12 411.45,363.15 410.10,363.18 C408.76,363.21 407.41,363.23 406.06,363.26 C404.72,363.28 403.37,363.31 402.03,363.34 C400.68,363.36 399.34,363.39 397.99,363.41 C396.65,363.44 395.30,363.46 393.96,363.49 C392.62,363.51 391.27,363.53 389.93,363.56 C388.58,363.58 387.24,363.61 385.89,363.63 C384.55,363.65 383.21,363.68 381.86,363.70 C380.52,363.72 379.17,363.74 377.83,363.77 C376.49,363.79 375.14,363.81 373.80,363.83 C372.46,363.86 371.11,363.88 369.77,363.90 C368.43,363.92 367.08,363.94 365.74,363.96 C364.40,363.99 363.05,364.01 361.71,364.03 C360.37,364.05 359.03,364.07 357.68,364.09 C356.34,364.11 355.00,364.13 353.66,364.15 C352.31,364.17 350.97,364.19 349.63,364.21 C348.29,364.23 346.94,364.25 345.60,364.27 C344.26,364.29 342.92,364.31 341.57,364.32 C340.23,364.34 338.89,364.36 337.55,364.38 C336.21,364.40 334.86,364.42 333.52,364.43 C332.18,364.45 330.84,364.47 329.50,364.49 C328.16,364.51 326.81,364.52 325.47,364.54 C324.13,364.56 322.79,364.57 321.45,364.59 C320.11,364.61 318.76,364.62 317.42,364.64 C316.08,364.66 314.74,364.67 313.40,364.69 C312.06,364.71 310.71,364.72 309.37,364.74 C308.03,364.75 306.69,364.77 305.35,364.78 C304.01,364.80 302.67,364.81 301.32,364.83 C299.98,364.84 298.64,364.86 297.30,364.87 C295.96,364.89 294.62,364.90 293.28,364.92 C291.93,364.93 290.59,364.94 289.25,364.96 C287.91,364.97 286.57,364.99 285.23,365.00 C283.89,365.01 282.54,365.03 281.20,365.04 C279.86,365.05 278.52,365.06 277.18,365.08 C275.84,365.09 274.50,365.10 273.15,365.11 C271.81,365.13 270.47,365.14 269.13,365.15 C267.79,365.16 266.45,365.17 265.10,365.19 C263.76,365.20 262.42,365.21 261.08,365.22 C259.74,365.23 258.40,365.24 257.05,365.25 C255.71,365.26 254.37,365.28 253.03,365.29 C251.69,365.30 250.34,365.31 249.00,365.32 C247.66,365.33 246.32,365.34 244.98,365.35 C243.63,365.36 242.29,365.37 240.95,365.38 C239.61,365.39 238.26,365.40 236.92,365.40 C235.58,365.41 234.24,365.42 232.89,365.43 C231.55,365.44 230.21,365.45 228.87,365.46 C227.52,365.47 226.18,365.47 224.84,365.48 C223.49,365.49 222.15,365.50 220.81,365.51 C219.46,365.52 218.12,365.52 216.78,365.53 C215.43,365.54 214.09,365.55 212.75,365.55 C211.40,365.56 210.06,365.57 208.72,365.57 C207.37,365.58 206.03,365.59 204.68,365.60 C203.34,365.60 202.00,365.61 200.65,365.61 C199.31,365.62 197.96,365.63 196.62,365.63 C195.27,365.64 193.93,365.65 192.58,365.65 C191.24,365.66 189.89,365.66 188.55,365.67 C187.20,365.67 185.86,365.68 184.51,365.68 C183.17,365.69 181.82,365.69 180.48,365.70 C179.13,365.70 177.78,365.71 176.44,365.71 C175.09,365.72 173.75,365.72 172.40,365.73 C171.05,365.73 169.71,365.74 168.36,365.74 C167.01,365.74 165.67,365.75 164.32,365.75 C162.97,365.76 161.62,365.76 160.28,365.76 C158.93,365.77 157.58,365.77 156.23,365.77 C154.89,365.78 153.54,365.78 152.19,365.78 C150.84,365.78 149.49,365.79 148.15,365.79 C146.80,365.79 144.77,365.80 144.10,365.80" stroke="#00cd00"/>
<path class="c" d="M685.40,183.30 C686.06,183.50 688.05,184.08 689.36,184.48 C690.66,184.88 691.95,185.28 693.25,185.70 C694.55,186.12 695.86,186.55 697.17,187.00 C698.48,187.44 699.79,187.90 701.10,188.37 C702.41,188.84 703.72,189.33 705.03,189.83 C706.34,190.33 707.65,190.84 708.96,191.37 C710.26,191.90 711.56,192.44 712.86,193.00 C714.16,193.56 715.45,194.14 716.73,194.73 C718.02,195.32 719.30,195.93 720.56,196.55 C721.83,197.18 723.09,197.82 724.34,198.48 C725.59,199.14 726.83,199.81 728.06,200.51 C729.28,201.20 730.50,201.91 731.70,202.65 C732.89,203.38 734.08,204.13 735.25,204.90 C736.42,205.67 737.57,206.46 738.71,207.27 C739.84,208.08 740.96,208.91 742.06,209.76 C743.16,210.61 744.24,211.48 745.29,212.38 C746.35,213.27 747.39,214.18 748.40,215.12 C749.41,216.06 750.40,217.02 751.36,218.00 C752.32,218.98 753.26,219.98 754.18,221.01 C755.09,222.04 755.97,223.09 756.83,224.17 C757.68,225.24 758.51,226.34 759.31,227.47 C760.10,228.59 760.87,229.74 761.60,230.91 C762.34,232.09 763.04,233.29 763.71,234.52 C764.37,235.74 765.01,236.99 765.60,238.27 C766.20,239.55 766.79,240.87 767.29,242.19 C767.78,243.51 768.38,245.53 768.60,246.20" stroke="#00cd00" stroke-dasharray="8.3 8.3" stroke-dashoffset="0.0"/>
<path class="c" d="M770.20,254.30 C770.25,254.98 770.51,257.00 770.53,258.40 C770.54,259.79 770.42,261.28 770.28,262.68 C770.14,264.08 769.94,265.46 769.68,266.81 C769.43,268.15 769.12,269.48 768.76,270.78 C768.40,272.07 767.99,273.35 767.53,274.59 C767.07,275.84 766.56,277.06 766.01,278.26 C765.46,279.46 764.87,280.63 764.23,281.78 C763.60,282.93 762.92,284.05 762.20,285.15 C761.49,286.25 760.73,287.32 759.95,288.37 C759.16,289.43 758.34,290.45 757.48,291.46 C756.63,292.46 755.75,293.44 754.83,294.40 C753.92,295.35 752.98,296.29 752.01,297.20 C751.05,298.11 750.06,299.00 749.04,299.87 C748.03,300.74 746.99,301.59 745.93,302.41 C744.87,303.24 743.79,304.05 742.69,304.84 C741.60,305.62 740.48,306.39 739.35,307.14 C738.22,307.89 737.07,308.63 735.92,309.34 C734.76,310.05 733.59,310.75 732.40,311.43 C731.22,312.11 730.03,312.78 728.83,313.43 C727.63,314.08 726.42,314.71 725.21,315.33 C724.00,315.95 722.78,316.55 721.55,317.14 C720.33,317.73 719.10,318.30 717.86,318.87 C716.63,319.43 715.38,319.98 714.14,320.52 C712.89,321.06 711.64,321.58 710.39,322.09 C709.13,322.61 707.88,323.11 706.61,323.60 C705.35,324.09 704.08,324.57 702.81,325.04 C701.54,325.51 700.27,325.97 698.99,326.42 C697.71,326.87 696.43,327.32 695.15,327.75 C693.87,328.18 692.58,328.61 691.30,329.02 C690.01,329.44 688.72,329.85 687.43,330.25 C686.13,330.66 684.84,331.05 683.54,331.44 C682.25,331.83 680.95,332.21 679.65,332.59 C678.36,332.97 677.06,333.34 675.76,333.71 C674.46,334.08 673.15,334.44 671.85,334.80 C670.55,335.15 669.25,335.51 667.94,335.85 C666.64,336.20 665.33,336.54 664.03,336.88 C662.72,337.21 661.41,337.55 660.10,337.87 C658.79,338.20 657.48,338.52 656.17,338.84 C654.86,339.16 653.55,339.47 652.24,339.77 C650.93,340.08 649.61,340.39 648.30,340.68 C646.99,340.98 645.67,341.28 644.35,341.56 C643.04,341.85 641.72,342.14 640.40,342.42 C639.09,342.70 637.77,342.97 636.45,343.25 C635.13,343.52 633.81,343.78 632.49,344.05 C631.17,344.31 629.84,344.57 628.52,344.82 C627.20,345.08 625.88,345.33 624.55,345.57 C623.23,345.82 621.90,346.06 620.58,346.30 C619.25,346.54 617.93,346.77 616.60,347.01 C615.27,347.24 613.94,347.46 612.62,347.69 C611.29,347.91 609.96,348.13 608.63,348.34 C607.30,348.56 605.97,348.77 604.64,348.98 C603.31,349.19 601.98,349.39 600.64,349.60 C599.31,349.80 597.98,350.00 596.65,350.19 C595.31,350.39 593.98,350.58 592.64,350.77 C591.31,350.95 589.98,351.14 588.64,351.32 C587.30,351.50 585.97,351.68 584.63,351.86 C583.30,352.03 581.96,352.21 580.62,352.38 C579.29,352.54 577.95,352.71 576.61,352.88 C575.27,353.04 573.93,353.20 572.59,353.36 C571.26,353.52 569.92,353.67 568.58,353.83 C567.24,353.98 565.90,354.13 564.56,354.28 C563.22,354.42 561.88,354.57 560.53,354.71 C559.19,354.85 557.85,354.99 556.51,355.13 C555.17,355.27 553.83,355.40 552.48,355.54 C551.14,355.67 549.80,355.80 548.46,355.93 C547.12,356.06 545.77,356.19 544.43,356.31 C543.09,356.43 541.74,356.56 540.40,356.68 C539.06,356.80 537.71,356.92 536.37,357.03 C535.02,357.15 533.68,357.26 532.34,357.38 C530.99,357.49 529.65,357.60 528.30,357.71 C526.96,357.82 525.62,357.93 524.27,358.03 C522.93,358.14 521.58,358.24 520.24,358.35 C518.89,358.45 517.55,358.55 516.20,358.65 C514.86,358.75 513.51,358.85 512.17,358.94 C510.82,359.04 509.48,359.13 508.13,359.23 C506.79,359.32 505.44,359.41 504.10,359.50 C502.75,359.59 501.41,359.68 500.06,359.77 C498.71,359.86 497.37,359.94 496.02,360.03 C494.68,360.11 493.33,360.19 491.99,360.27 C490.64,360.35 489.29,360.43 487.95,360.51 C486.60,360.59 485.26,360.67 483.91,360.74 C482.56,360.82 481.22,360.89 479.87,360.97 C478.52,361.04 477.18,361.11 475.83,361.18 C474.48,361.25 473.14,361.32 471.79,361.39 C470.44,361.45 469.10,361.52 467.75,361.58 C466.40,361.65 465.06,361.71 463.71,361.77 C462.36,361.84 461.02,361.90 459.67,361.96 C458.32,362.02 456.97,362.08 455.63,362.13 C454.28,362.19 452.93,362.25 451.59,362.30 C450.24,362.36 448.89,362.41 447.54,362.46 C446.20,362.51 444.85,362.57 443.50,362.62 C442.15,362.67 440.81,362.71 439.46,362.76 C438.11,362.81 436.76,362.86 435.41,362.90 C434.07,362.95 432.72,362.99 431.37,363.04 C430.02,363.08 428.67,363.12 427.33,363.17 C425.98,363.21 424.63,363.25 423.28,363.29 C421.93,363.33 420.59,363.37 419.24,363.40 C417.89,363.44 416.54,363.48 415.19,363.51 C413.84,363.55 412.50,363.58 411.15,363.62 C409.80,363.65 408.45,363.68 407.10,363.72 C405.75,363.75 404.41,363.78 403.06,363.81 C401.71,363.84 400.36,363.87 399.01,363.90 C397.66,363.93 396.31,363.95 394.96,363.98 C393.62,364.01 392.27,364.03 390.92,364.06 C389.57,364.08 388.22,364.11 386.87,364.13 C385.52,364.15 384.17,364.18 382.82,364.20 C381.48,364.22 380.13,364.24 378.78,364.26 C377.43,364.28 376.08,364.30 374.73,364.32 C373.38,364.34 372.03,364.36 370.68,364.38 C369.33,364.40 367.99,364.41 366.64,364.43 C365.29,364.45 363.94,364.46 362.59,364.48 C361.24,364.50 359.89,364.51 358.54,364.52 C357.19,364.54 355.84,364.55 354.49,364.57 C353.14,364.58 351.79,364.59 350.44,364.60 C349.10,364.61 347.75,364.63 346.40,364.64 C345.05,364.65 343.70,364.66 342.35,364.67 C341.00,364.68 339.65,364.69 338.30,364.70 C336.95,364.71 335.60,364.72 334.25,364.72 C332.90,364.73 331.55,364.74 330.20,364.75 C328.85,364.75 327.50,364.76 326.15,364.77 C324.81,364.77 323.46,364.78 322.11,364.79 C320.76,364.79 319.41,364.80 318.06,364.80 C316.71,364.81 315.36,364.81 314.01,364.82 C312.66,364.82 311.31,364.83 309.96,364.83 C308.61,364.84 307.26,364.84 305.91,364.84 C304.56,364.85 303.21,364.85 301.86,364.85 C300.51,364.86 299.16,364.86 297.82,364.86 C296.47,364.86 295.12,364.87 293.77,364.87 C292.42,364.87 291.07,364.87 289.72,364.88 C288.37,364.88 287.02,364.88 285.67,364.88 C284.32,364.88 282.97,364.89 281.62,364.89 C280.27,364.89 278.92,364.89 277.57,364.89 C276.22,364.89 274.87,364.89 273.53,364.90 C272.18,364.90 270.83,364.90 269.48,364.90 C268.13,364.90 266.78,364.90 265.43,364.90 C264.08,364.91 262.73,364.91 261.38,364.91 C260.03,364.91 258.68,364.91 257.33,364.91 C255.99,364.92 254.64,364.92 253.29,364.92 C251.94,364.92 250.59,364.92 249.24,364.92 C247.89,364.93 246.54,364.93 245.19,364.93 C243.84,364.93 242.49,364.94 241.15,364.94 C239.80,364.94 238.45,364.94 237.10,364.95 C235.75,364.95 234.40,364.95 233.05,364.96 C231.70,364.96 230.36,364.96 229.01,364.97 C227.66,364.97 226.31,364.98 224.96,364.98 C223.61,364.99 222.26,364.99 220.91,365.00 C219.57,365.00 218.22,365.01 216.87,365.01 C215.52,365.02 214.17,365.02 212.82,365.03 C211.48,365.04 210.13,365.04 208.78,365.05 C207.43,365.06 206.08,365.07 204.73,365.07 C203.39,365.08 202.04,365.09 200.69,365.10 C199.34,365.11 197.99,365.12 196.65,365.13 C195.30,365.14 193.95,365.15 192.60,365.16 C191.25,365.17 189.91,365.18 188.56,365.19 C187.21,365.20 185.86,365.22 184.51,365.23 C183.17,365.24 181.82,365.26 180.47,365.27 C179.12,365.28 177.78,365.30 176.43,365.31 C175.08,365.33 173.73,365.34 172.39,365.36 C171.04,365.38 169.69,365.39 168.35,365.41 C167.00,365.43 165.65,365.45 164.30,365.47 C162.96,365.49 161.61,365.51 160.26,365.53 C158.92,365.55 157.57,365.57 156.22,365.59 C154.88,365.61 153.53,365.63 152.18,365.66 C150.84,365.68 149.49,365.71 148.14,365.73 C146.80,365.75 144.77,365.79 144.10,365.80" stroke="#00cd00"/>
<path class="c" d="M144.10,445.30 C144.77,445.30 146.78,445.28 148.13,445.27 C149.47,445.26 150.81,445.26 152.15,445.25 C153.49,445.24 154.83,445.24 156.17,445.23 C157.52,445.22 158.86,445.22 160.20,445.21 C161.54,445.20 162.88,445.20 164.23,445.19 C165.57,445.19 166.91,445.18 168.25,445.18 C169.59,445.17 170.94,445.17 172.28,445.16 C173.62,445.16 174.96,445.15 176.31,445.15 C177.65,445.14 178.99,445.14 180.33,445.13 C181.68,445.13 183.02,445.12 184.36,445.12 C185.71,445.11 187.05,445.11 188.39,445.11 C189.73,445.10 191.08,445.10 192.42,445.09 C193.76,445.09 195.11,445.09 196.45,445.08 C197.79,445.08 199.14,445.07 200.48,445.07 C201.83,445.07 203.17,445.06 204.51,445.06 C205.86,445.05 207.20,445.05 208.54,445.05 C209.89,445.04 211.23,445.04 212.58,445.03 C213.92,445.03 215.26,445.03 216.61,445.02 C217.95,445.02 219.30,445.01 220.64,445.01 C221.98,445.01 223.33,445.00 224.67,445.00 C226.02,444.99 227.36,444.99 228.71,444.98 C230.05,444.98 231.39,444.97 232.74,444.97 C234.08,444.96 235.43,444.96 236.77,444.95 C238.12,444.95 239.46,444.94 240.81,444.94 C242.15,444.93 243.50,444.93 244.84,444.92 C246.18,444.92 247.53,444.91 248.87,444.90 C250.22,444.90 251.56,444.89 252.91,444.88 C254.25,444.88 255.60,444.87 256.94,444.86 C258.29,444.86 259.63,444.85 260.98,444.84 C262.32,444.83 263.67,444.83 265.01,444.82 C266.36,444.81 267.70,444.80 269.05,444.79 C270.40,444.78 271.74,444.78 273.09,444.77 C274.43,444.76 275.78,444.75 277.12,444.74 C278.47,444.73 279.81,444.72 281.16,444.71 C282.50,444.70 283.85,444.68 285.19,444.67 C286.54,444.66 287.88,444.65 289.23,444.64 C290.57,444.63 291.92,444.61 293.27,444.60 C294.61,444.59 295.96,444.57 297.30,444.56 C298.65,444.55 299.99,444.53 301.34,444.52 C302.68,444.50 304.03,444.49 305.37,444.47 C306.72,444.46 308.07,444.44 309.41,444.42 C310.76,444.41 312.10,444.39 313.45,444.37 C314.79,444.36 316.14,444.34 317.48,444.32 C318.83,444.30 320.17,444.28 321.52,444.26 C322.87,444.24 324.21,444.22 325.56,444.20 C326.90,444.18 328.25,444.16 329.59,444.14 C330.94,444.12 332.28,444.09 333.63,444.07 C334.97,444.05 336.32,444.02 337.67,444.00 C339.01,443.98 340.36,443.95 341.70,443.92 C343.05,443.90 344.39,443.87 345.74,443.85 C347.08,443.82 348.43,443.79 349.77,443.76 C351.12,443.74 352.46,443.71 353.81,443.68 C355.15,443.65 356.50,443.62 357.84,443.59 C359.19,443.56 360.53,443.53 361.88,443.49 C363.22,443.46 364.57,443.43 365.91,443.39 C367.26,443.36 368.60,443.33 369.95,443.29 C371.29,443.26 372.64,443.22 373.98,443.18 C375.33,443.15 376.67,443.11 378.02,443.07 C379.36,443.03 380.71,442.99 382.05,442.95 C383.40,442.91 384.74,442.87 386.09,442.83 C387.43,442.79 388.77,442.75 390.12,442.70 C391.46,442.66 392.81,442.62 394.15,442.57 C395.50,442.52 396.84,442.48 398.18,442.43 C399.53,442.39 400.87,442.34 402.22,442.29 C403.56,442.24 404.91,442.19 406.25,442.14 C407.59,442.09 408.94,442.04 410.28,441.99 C411.63,441.93 412.97,441.88 414.31,441.83 C415.66,441.77 417.00,441.72 418.34,441.66 C419.69,441.60 421.03,441.55 422.37,441.49 C423.72,441.43 425.06,441.37 426.40,441.31 C427.75,441.25 429.09,441.19 430.43,441.13 C431.78,441.07 433.12,441.00 434.46,440.94 C435.81,440.87 437.15,440.81 438.49,440.74 C439.84,440.67 441.18,440.61 442.52,440.54 C443.86,440.47 445.21,440.40 446.55,440.33 C447.89,440.26 449.23,440.19 450.58,440.11 C451.92,440.04 453.26,439.97 454.60,439.89 C455.94,439.81 457.29,439.74 458.63,439.66 C459.97,439.58 461.31,439.50 462.65,439.42 C464.00,439.34 465.34,439.26 466.68,439.18 C468.02,439.10 469.36,439.01 470.70,438.93 C472.04,438.84 473.39,438.76 474.73,438.67 C476.07,438.58 477.41,438.49 478.75,438.40 C480.09,438.31 481.43,438.22 482.77,438.13 C484.11,438.04 485.45,437.94 486.79,437.85 C488.13,437.75 489.48,437.66 490.82,437.56 C492.16,437.46 493.50,437.36 494.84,437.26 C496.18,437.16 497.52,437.06 498.86,436.96 C500.20,436.86 501.54,436.75 502.87,436.65 C504.21,436.54 505.55,436.43 506.89,436.32 C508.23,436.22 509.57,436.11 510.91,435.99 C512.25,435.88 513.59,435.77 514.93,435.66 C516.27,435.54 517.60,435.43 518.94,435.31 C520.28,435.19 521.62,435.07 522.96,434.95 C524.30,434.83 525.63,434.71 526.97,434.59 C528.31,434.47 529.65,434.34 530.99,434.22 C532.32,434.09 533.66,433.96 535.00,433.83 C536.34,433.70 537.67,433.57 539.01,433.44 C540.35,433.31 541.68,433.18 543.02,433.04 C544.36,432.91 545.69,432.77 547.03,432.63 C548.37,432.49 549.70,432.35 551.04,432.21 C552.38,432.07 553.71,431.93 555.05,431.78 C556.38,431.64 557.72,431.49 559.05,431.34 C560.39,431.20 561.73,431.05 563.06,430.90 C564.40,430.74 565.73,430.59 567.07,430.44 C568.40,430.28 569.74,430.13 571.07,429.97 C572.40,429.81 573.74,429.65 575.07,429.49 C576.41,429.33 577.74,429.17 579.08,429.00 C580.41,428.84 581.74,428.67 583.08,428.50 C584.41,428.33 585.74,428.16 587.08,427.99 C588.41,427.82 589.74,427.65 591.08,427.47 C592.41,427.30 593.74,427.12 595.07,426.94 C596.41,426.76 597.74,426.58 599.07,426.40 C600.40,426.22 601.73,426.03 603.07,425.85 C604.40,425.66 605.73,425.47 607.06,425.28 C608.39,425.09 609.72,424.90 611.05,424.71 C612.38,424.51 613.72,424.32 615.05,424.12 C616.38,423.92 617.71,423.73 619.04,423.52 C620.37,423.32 621.70,423.12 623.03,422.92 C624.36,422.71 625.69,422.50 627.02,422.29 C628.34,422.09 629.67,421.88 631.00,421.66 C632.33,421.45 633.66,421.24 634.99,421.02 C636.32,420.80 637.65,420.58 638.97,420.36 C640.30,420.14 641.63,419.92 642.96,419.69 C644.28,419.47 645.61,419.24 646.94,419.01 C648.27,418.78 649.59,418.55 650.92,418.32 C652.24,418.08 653.57,417.85 654.89,417.61 C656.22,417.37 657.54,417.13 658.87,416.88 C660.19,416.64 661.52,416.39 662.84,416.14 C664.16,415.89 665.49,415.64 666.81,415.38 C668.13,415.13 669.45,414.87 670.77,414.61 C672.09,414.35 673.41,414.08 674.73,413.81 C676.05,413.55 677.37,413.28 678.69,413.00 C680.01,412.73 681.32,412.45 682.64,412.17 C683.95,411.89 685.27,411.60 686.58,411.32 C687.90,411.03 689.21,410.74 690.52,410.44 C691.84,410.15 693.15,409.85 694.46,409.55 C695.77,409.25 697.08,408.94 698.39,408.63 C699.70,408.32 701.00,408.01 702.31,407.69 C703.62,407.37 704.92,407.05 706.23,406.73 C707.53,406.40 708.83,406.07 710.13,405.74 C711.44,405.40 712.74,405.07 714.04,404.72 C715.34,404.38 716.63,404.03 717.93,403.68 C719.23,403.33 720.52,402.98 721.82,402.62 C723.11,402.26 724.40,401.89 725.69,401.52 C726.98,401.15 728.27,400.78 729.56,400.40 C730.85,400.02 732.14,399.64 733.42,399.25 C734.71,398.86 735.99,398.47 737.27,398.07 C738.56,397.67 739.84,397.27 741.11,396.86 C742.39,396.45 743.67,396.03 744.94,395.61 C746.22,395.19 747.49,394.76 748.76,394.32 C750.02,393.88 751.29,393.43 752.54,392.96 C753.80,392.50 755.05,392.03 756.30,391.54 C757.55,391.05 758.79,390.55 760.02,390.03 C761.25,389.51 762.48,388.98 763.70,388.43 C764.91,387.88 766.17,387.39 767.32,386.72 C768.47,386.04 770.05,384.79 770.60,384.40" stroke="#00cd00"/>
<path class="c" d="M681.50,400.90 C682.21,400.78 684.33,400.41 685.74,400.16 C687.16,399.92 688.57,399.67 689.99,399.43 C691.40,399.18 692.82,398.94 694.23,398.69 C695.65,398.44 697.06,398.20 698.48,397.95 C699.89,397.70 701.30,397.45 702.72,397.20 C704.13,396.95 705.55,396.70 706.96,396.45 C708.37,396.20 709.79,395.95 711.20,395.70 C712.62,395.45 714.03,395.19 715.44,394.94 C716.85,394.68 718.27,394.43 719.68,394.17 C721.09,393.92 722.51,393.66 723.92,393.40 C725.33,393.14 726.74,392.88 728.15,392.62 C729.57,392.35 730.98,392.09 732.39,391.83 C733.80,391.56 735.21,391.29 736.62,391.03 C738.03,390.76 739.44,390.49 740.85,390.22 C742.26,389.94 743.67,389.67 745.08,389.39 C746.49,389.12 747.90,388.84 749.31,388.56 C750.72,388.28 752.12,388.00 753.53,387.72 C754.94,387.43 756.35,387.15 757.75,386.86 C759.16,386.57 760.57,386.28 761.97,385.99 C763.38,385.69 764.78,385.40 766.19,385.10 C767.59,384.80 769.70,384.35 770.40,384.20" stroke="#00cd00" stroke-dasharray="8.3 8.3" stroke-dashoffset="0.0"/>
</g>
<path d="M144.10,14.30 H802.30 V521.30 H144.10 Z" fill="none" stroke="#000" stroke-width="1.35" stroke-linejoin="round"/>
<path d="M144.10,36.83 h6.70 M802.30,36.83 h-6.70 M144.10,59.37 h6.70 M802.30,59.37 h-6.70 M144.10,81.90 h6.70 M802.30,81.90 h-6.70 M144.10,104.43 h6.70 M802.30,104.43 h-6.70 M144.10,126.97 h13.00 M802.30,126.97 h-13.00 M144.10,149.50 h6.70 M802.30,149.50 h-6.70 M144.10,172.03 h6.70 M802.30,172.03 h-6.70 M144.10,194.57 h6.70 M802.30,194.57 h-6.70 M144.10,217.10 h6.70 M802.30,217.10 h-6.70 M144.10,239.63 h13.00 M802.30,239.63 h-13.00 M144.10,262.17 h6.70 M802.30,262.17 h-6.70 M144.10,284.70 h6.70 M802.30,284.70 h-6.70 M144.10,307.23 h6.70 M802.30,307.23 h-6.70 M144.10,329.77 h6.70 M802.30,329.77 h-6.70 M144.10,352.30 h13.00 M802.30,352.30 h-13.00 M144.10,374.83 h6.70 M802.30,374.83 h-6.70 M144.10,397.37 h6.70 M802.30,397.37 h-6.70 M144.10,419.90 h6.70 M802.30,419.90 h-6.70 M144.10,442.43 h6.70 M802.30,442.43 h-6.70 M144.10,464.97 h13.00 M802.30,464.97 h-13.00 M144.10,487.50 h6.70 M802.30,487.50 h-6.70 M144.10,510.03 h6.70 M802.30,510.03 h-6.70 M224.09,521.30 v-5.30 M224.09,14.30 v5.30 M270.88,521.30 v-5.30 M270.88,14.30 v5.30 M304.07,521.30 v-5.30 M304.07,14.30 v5.30 M329.82,521.30 v-5.30 M329.82,14.30 v5.30 M350.86,521.30 v-5.30 M350.86,14.30 v5.30 M368.65,521.30 v-5.30 M368.65,14.30 v5.30 M384.06,521.30 v-5.30 M384.06,14.30 v5.30 M397.65,521.30 v-5.30 M397.65,14.30 v5.30 M409.81,521.30 v-10.60 M409.81,14.30 v10.60 M489.80,521.30 v-5.30 M489.80,14.30 v5.30 M536.59,521.30 v-5.30 M536.59,14.30 v5.30 M569.79,521.30 v-5.30 M569.79,14.30 v5.30 M595.54,521.30 v-5.30 M595.54,14.30 v5.30 M616.58,521.30 v-5.30 M616.58,14.30 v5.30 M634.36,521.30 v-5.30 M634.36,14.30 v5.30 M649.77,521.30 v-5.30 M649.77,14.30 v5.30 M663.37,521.30 v-5.30 M663.37,14.30 v5.30 M675.52,521.30 v-10.60 M675.52,14.30 v10.60 M755.51,521.30 v-5.30 M755.51,14.30 v5.30 M802.30,521.30 v-5.30 M802.30,14.30 v5.30" fill="none" stroke="#000" stroke-width="1.15" stroke-linecap="butt"/>
<g transform="translate(120.00,36.10)"><path d="M5.1,-21.3 V-0.5" fill="none" stroke="#000" stroke-width="1.890" stroke-linecap="butt" stroke-linejoin="round"/><path d="M0.5,-17.3 L4.6,-20.4 M0.4,-0.55 H9.3" fill="none" stroke="#000" stroke-width="1.147" stroke-linecap="butt" stroke-linejoin="round"/></g>
<g transform="translate(116.50,140.00)"><path d="M0.00,-10.85 A7.50,10.95 0 1,0 15.00,-10.85 A7.50,10.95 0 1,0 0.00,-10.85 Z M1.65,-10.85 A5.85,9.90 0 1,0 13.35,-10.85 A5.85,9.90 0 1,0 1.65,-10.85 Z" fill="#000" fill-rule="evenodd" stroke="none"/></g>
<path d="M92.70,243.10 H110.60" stroke="#000" stroke-width="1.10" fill="none"/>
<g transform="translate(120.00,252.50)"><path d="M5.1,-21.3 V-0.5" fill="none" stroke="#000" stroke-width="1.890" stroke-linecap="butt" stroke-linejoin="round"/><path d="M0.5,-17.3 L4.6,-20.4 M0.4,-0.55 H9.3" fill="none" stroke="#000" stroke-width="1.147" stroke-linecap="butt" stroke-linejoin="round"/></g>
<path d="M92.70,355.00 H110.60" stroke="#000" stroke-width="1.10" fill="none"/>
<g transform="translate(116.60,364.40)"><path d="M1.0,-15.9 C0.9,-19.2 3.8,-21.1 7.6,-21.1 C11.6,-21.1 14.3,-19.1 14.3,-15.8 C14.3,-12.4 11.2,-10.4 7.4,-8.2 C3.6,-6.0 1.0,-3.9 0.7,-0.4 M0.8,-3.5 C2.4,-4.4 4.0,-4.1 6.2,-2.7 C9.2,-0.7 12.6,-0.4 14.5,-4.8" fill="none" stroke="#000" stroke-width="1.350" stroke-linecap="butt" stroke-linejoin="round"/><circle cx="1.80" cy="-15.80" r="1.05" fill="#000"/></g>
<path d="M92.70,467.90 H110.60" stroke="#000" stroke-width="1.10" fill="none"/>
<g transform="translate(116.60,477.30)"><path d="M0.9,-16.2 C1.2,-19.2 3.8,-21.0 7.4,-21.0 C11.0,-21.0 13.6,-19.2 13.6,-16.4 C13.6,-13.6 11.0,-12.0 6.6,-11.9 M6.6,-11.9 C11.4,-11.8 14.5,-9.6 14.5,-6.1 C14.5,-2.5 11.4,-0.5 7.6,-0.5 C3.8,-0.5 1.0,-2.2 0.8,-5.0" fill="none" stroke="#000" stroke-width="1.350" stroke-linecap="butt" stroke-linejoin="round"/><circle cx="1.70" cy="-16.00" r="1.05" fill="#000"/><circle cx="1.70" cy="-5.20" r="1.05" fill="#000"/></g>
<g transform="translate(138.60,566.00)"><path d="M5.1,-21.3 V-0.5" fill="none" stroke="#000" stroke-width="1.890" stroke-linecap="butt" stroke-linejoin="round"/><path d="M0.5,-17.3 L4.6,-20.4 M0.4,-0.55 H9.3" fill="none" stroke="#000" stroke-width="1.147" stroke-linecap="butt" stroke-linejoin="round"/></g>
<g transform="translate(394.50,566.00)"><path d="M5.1,-21.3 V-0.5" fill="none" stroke="#000" stroke-width="1.890" stroke-linecap="butt" stroke-linejoin="round"/><path d="M0.5,-17.3 L4.6,-20.4 M0.4,-0.55 H9.3" fill="none" stroke="#000" stroke-width="1.147" stroke-linecap="butt" stroke-linejoin="round"/></g><g transform="translate(410.80,566.00)"><path d="M0.00,-10.85 A7.50,10.95 0 1,0 15.00,-10.85 A7.50,10.95 0 1,0 0.00,-10.85 Z M1.65,-10.85 A5.85,9.90 0 1,0 13.35,-10.85 A5.85,9.90 0 1,0 1.65,-10.85 Z" fill="#000" fill-rule="evenodd" stroke="none"/></g>
<g transform="translate(650.80,566.00)"><path d="M5.1,-21.3 V-0.5" fill="none" stroke="#000" stroke-width="1.890" stroke-linecap="butt" stroke-linejoin="round"/><path d="M0.5,-17.3 L4.6,-20.4 M0.4,-0.55 H9.3" fill="none" stroke="#000" stroke-width="1.147" stroke-linecap="butt" stroke-linejoin="round"/></g><g transform="translate(666.90,566.00)"><path d="M0.00,-10.85 A7.50,10.95 0 1,0 15.00,-10.85 A7.50,10.95 0 1,0 0.00,-10.85 Z M1.65,-10.85 A5.85,9.90 0 1,0 13.35,-10.85 A5.85,9.90 0 1,0 1.65,-10.85 Z" fill="#000" fill-rule="evenodd" stroke="none"/></g><g transform="translate(686.40,566.00)"><path d="M0.00,-10.85 A7.50,10.95 0 1,0 15.00,-10.85 A7.50,10.95 0 1,0 0.00,-10.85 Z M1.65,-10.85 A5.85,9.90 0 1,0 13.35,-10.85 A5.85,9.90 0 1,0 1.65,-10.85 Z" fill="#000" fill-rule="evenodd" stroke="none"/></g>
<g transform="translate(411.00,195.20)"><path d="M0.00,-10.85 A7.50,10.95 0 1,0 15.00,-10.85 A7.50,10.95 0 1,0 0.00,-10.85 Z M1.65,-10.85 A5.85,9.90 0 1,0 13.35,-10.85 A5.85,9.90 0 1,0 1.65,-10.85 Z" fill="#0000ff" fill-rule="evenodd" stroke="none"/></g><g transform="translate(431.60,195.20)"><circle cx="1.50" cy="-1.45" r="1.45" fill="#0000ff"/></g><g transform="translate(443.00,195.20)"><path d="M5.1,-21.3 V-0.5" fill="none" stroke="#0000ff" stroke-width="1.890" stroke-linecap="butt" stroke-linejoin="round"/><path d="M0.5,-17.3 L4.6,-20.4 M0.4,-0.55 H9.3" fill="none" stroke="#0000ff" stroke-width="1.147" stroke-linecap="butt" stroke-linejoin="round"/></g>
<g transform="translate(537.80,60.00)"><path d="M0.00,-10.85 A7.50,10.95 0 1,0 15.00,-10.85 A7.50,10.95 0 1,0 0.00,-10.85 Z M1.65,-10.85 A5.85,9.90 0 1,0 13.35,-10.85 A5.85,9.90 0 1,0 1.65,-10.85 Z" fill="#ff0000" fill-rule="evenodd" stroke="none"/></g><g transform="translate(558.30,60.00)"><circle cx="1.50" cy="-1.45" r="1.45" fill="#ff0000"/></g><g transform="translate(567.00,60.00)"><path d="M2.0,-20.9 L0.9,-11.2 C2.4,-13.4 4.6,-14.4 7.0,-14.4 C11.2,-14.4 14.1,-11.6 14.1,-7.4 C14.1,-3.2 11.0,-0.5 7.0,-0.5 C3.6,-0.5 1.0,-2.2 0.8,-4.8 M2.0,-20.7 C5.5,-20.0 9.5,-20.2 12.6,-21.2 C10.0,-19.4 5.5,-19.2 2.0,-20.2" fill="none" stroke="#ff0000" stroke-width="1.350" stroke-linecap="butt" stroke-linejoin="round"/><circle cx="1.70" cy="-5.00" r="1.05" fill="#ff0000"/></g>
<g transform="translate(706.80,167.00)"><path d="M1.0,-15.9 C0.9,-19.2 3.8,-21.1 7.6,-21.1 C11.6,-21.1 14.3,-19.1 14.3,-15.8 C14.3,-12.4 11.2,-10.4 7.4,-8.2 C3.6,-6.0 1.0,-3.9 0.7,-0.4 M0.8,-3.5 C2.4,-4.4 4.0,-4.1 6.2,-2.7 C9.2,-0.7 12.6,-0.4 14.5,-4.8" fill="none" stroke="#00cd00" stroke-width="1.350" stroke-linecap="butt" stroke-linejoin="round"/><circle cx="1.80" cy="-15.80" r="1.05" fill="#00cd00"/></g><g transform="translate(727.40,167.00)"><circle cx="1.50" cy="-1.45" r="1.45" fill="#00cd00"/></g><g transform="translate(736.10,167.00)"><path d="M2.0,-20.9 L0.9,-11.2 C2.4,-13.4 4.6,-14.4 7.0,-14.4 C11.2,-14.4 14.1,-11.6 14.1,-7.4 C14.1,-3.2 11.0,-0.5 7.0,-0.5 C3.6,-0.5 1.0,-2.2 0.8,-4.8 M2.0,-20.7 C5.5,-20.0 9.5,-20.2 12.6,-21.2 C10.0,-19.4 5.5,-19.2 2.0,-20.2" fill="none" stroke="#00cd00" stroke-width="1.350" stroke-linecap="butt" stroke-linejoin="round"/><circle cx="1.70" cy="-5.00" r="1.05" fill="#00cd00"/></g>
<g transform="translate(686.30,47.70)"><path d="M8.1,-14.7 C7.6,-12.8 6.6,-12.0 5.6,-12.1 C4.2,-12.2 3.3,-13.2 3.4,-14.8 C3.6,-18.6 8.0,-21.1 13.0,-21.1 C17.4,-21.1 20.6,-20.0 20.6,-17.2 C20.6,-14.2 17.4,-12.2 12.8,-12.1 C16.4,-12.0 18.7,-10.4 18.7,-7.6 C18.7,-3.6 16.2,0.1 13.4,0.1 C11.8,0.1 11.2,-1.4 11.4,-3.0 C11.6,-4.4 12.0,-5.2 12.7,-5.9" fill="none" stroke="#000" stroke-width="1.200" stroke-linecap="butt" stroke-linejoin="round"/><path d="M12.0,-20.5 C10.9,-15.4 9.5,-10.4 7.9,-6.6 C6.5,-3.2 4.6,-0.7 2.6,-0.7 C1.5,-0.7 0.9,-1.5 1.0,-2.6 L0.1,-2.6 C-0.1,-0.8 1.0,0.5 2.7,0.5 C5.4,0.5 7.9,-2.2 9.5,-6.0 C11.1,-10.0 12.5,-15.0 13.6,-20.1 Z" fill="#000" fill-rule="evenodd" stroke="none"/><circle cx="1.70" cy="-3.30" r="1.15" fill="#000"/></g><g transform="translate(711.20,48.20)"><path d="M7.7,-25.3 C2.5,-20.9 0.0,-14.9 0.0,-8.3 C0.0,-1.7 2.5,4.3 7.7,8.7 L8.3,8.0 C4.0,3.7 2.0,-1.9 2.0,-8.3 C2.0,-14.7 4.0,-20.3 8.3,-24.6 Z" fill="#000" fill-rule="evenodd" stroke="none"/></g><g transform="translate(723.90,47.70)"><path d="M0.3,-9.6 C1.2,-12.6 2.6,-14.3 4.2,-14.3 C5.6,-14.3 6.2,-13.2 5.8,-11.2 L3.6,-0.4 M5.6,-10.2 C7.2,-12.8 9.4,-14.4 11.6,-14.4 C13.2,-14.4 14.4,-13.6 14.4,-12.4" fill="none" stroke="#000" stroke-width="1.350" stroke-linecap="butt" stroke-linejoin="round"/><circle cx="14.00" cy="-12.00" r="1.20" fill="#000"/></g>
<g transform="translate(739.70,56.00) scale(0.6700,0.6419)"><path d="M2.60,-9.90 A4.60,4.90 0 1,0 11.80,-9.90 A4.60,4.90 0 1,0 2.60,-9.90 Z M10.9,-12.9 C12.0,-13.8 13.2,-14.3 14.4,-14.3 M3.6,-6.3 C2.0,-5.2 1.4,-3.5 2.0,-2.1 C2.7,-0.4 4.4,0.1 7.0,0.1 L10.4,0.2 C12.8,0.4 14.0,1.8 14.0,3.8 C14.0,6.2 11.0,7.8 7.3,7.8 C3.5,7.8 0.7,6.3 0.7,4.0 C0.7,2.0 2.2,0.9 4.2,0.5" fill="none" stroke="#000" stroke-width="1.821" stroke-linecap="butt" stroke-linejoin="round"/><circle cx="14.00" cy="-14.10" r="0.95" fill="#000"/></g><g transform="translate(751.40,56.00) scale(0.6700,0.6419)"><path d="M2.2,-12.2 C2.6,-13.8 4.4,-14.6 6.6,-14.6 C9.4,-14.6 10.8,-13.0 10.8,-10.4 V-2.6 C10.8,-1.0 11.6,-0.3 12.6,-0.3 C13.2,-0.3 13.6,-0.6 13.8,-1.4 M10.8,-8.4 C6.0,-8.2 1.0,-7.0 1.0,-3.4 C1.0,-1.4 2.6,-0.3 4.8,-0.3 C7.6,-0.3 10.0,-2.0 10.8,-4.8" fill="none" stroke="#000" stroke-width="1.821" stroke-linecap="butt" stroke-linejoin="round"/><circle cx="2.70" cy="-11.80" r="1.15" fill="#000"/></g><g transform="translate(761.70,56.00) scale(0.6700,0.6419)"><path d="M0.3,-14.2 H3.2 V-0.5 M0.3,-0.5 H6.2" fill="none" stroke="#000" stroke-width="1.821" stroke-linecap="butt" stroke-linejoin="round"/><circle cx="2.60" cy="-20.40" r="1.30" fill="#000"/></g><g transform="translate(767.30,56.00) scale(0.6700,0.6419)"><path d="M0.3,-14.2 H3.4 V-0.5 M0.3,-0.5 H7.0 M3.4,-10.0 C4.8,-12.8 7.6,-14.5 10.6,-14.5 C14.4,-14.5 16.4,-12.6 16.4,-9.4 V-0.5 M12.8,-0.5 H20.4" fill="none" stroke="#000" stroke-width="1.821" stroke-linecap="butt" stroke-linejoin="round"/></g>
<g transform="translate(784.50,48.20)"><path d="M0.5,-25.3 C5.7,-20.9 8.2,-14.9 8.2,-8.3 C8.2,-1.7 5.7,4.3 0.5,8.7 L-0.1,8.0 C4.2,3.7 6.2,-1.9 6.2,-8.3 C6.2,-14.7 4.2,-20.3 -0.1,-24.6 Z" fill="#000" fill-rule="evenodd" stroke="none"/></g>
<g transform="translate(696.50,352.00)"><path d="M8.1,-14.7 C7.6,-12.8 6.6,-12.0 5.6,-12.1 C4.2,-12.2 3.3,-13.2 3.4,-14.8 C3.6,-18.6 8.0,-21.1 13.0,-21.1 C17.4,-21.1 20.6,-20.0 20.6,-17.2 C20.6,-14.2 17.4,-12.2 12.8,-12.1 C16.4,-12.0 18.7,-10.4 18.7,-7.6 C18.7,-3.6 16.2,0.1 13.4,0.1 C11.8,0.1 11.2,-1.4 11.4,-3.0 C11.6,-4.4 12.0,-5.2 12.7,-5.9" fill="none" stroke="#000" stroke-width="1.200" stroke-linecap="butt" stroke-linejoin="round"/><path d="M12.0,-20.5 C10.9,-15.4 9.5,-10.4 7.9,-6.6 C6.5,-3.2 4.6,-0.7 2.6,-0.7 C1.5,-0.7 0.9,-1.5 1.0,-2.6 L0.1,-2.6 C-0.1,-0.8 1.0,0.5 2.7,0.5 C5.4,0.5 7.9,-2.2 9.5,-6.0 C11.1,-10.0 12.5,-15.0 13.6,-20.1 Z" fill="#000" fill-rule="evenodd" stroke="none"/><circle cx="1.70" cy="-3.30" r="1.15" fill="#000"/></g><g transform="translate(721.40,352.50)"><path d="M7.7,-25.3 C2.5,-20.9 0.0,-14.9 0.0,-8.3 C0.0,-1.7 2.5,4.3 7.7,8.7 L8.3,8.0 C4.0,3.7 2.0,-1.9 2.0,-8.3 C2.0,-14.7 4.0,-20.3 8.3,-24.6 Z" fill="#000" fill-rule="evenodd" stroke="none"/></g><g transform="translate(734.10,352.00)"><path d="M0.3,-9.6 C1.2,-12.6 2.6,-14.3 4.2,-14.3 C5.6,-14.3 6.2,-13.2 5.8,-11.2 L3.6,-0.4 M5.6,-10.2 C7.2,-12.8 9.4,-14.4 11.6,-14.4 C13.2,-14.4 14.4,-13.6 14.4,-12.4" fill="none" stroke="#000" stroke-width="1.350" stroke-linecap="butt" stroke-linejoin="round"/><circle cx="14.00" cy="-12.00" r="1.20" fill="#000"/></g>
<g transform="translate(750.60,360.40) scale(0.6700)"><path d="M13.0,-20.2 V-14.6 M13.0,-15.6 C12.2,-18.6 9.8,-20.4 7.0,-20.4 C3.6,-20.4 1.2,-18.4 1.2,-15.4 C1.2,-12.6 3.2,-11.4 7.2,-10.4 C11.6,-9.4 13.8,-7.8 13.8,-4.8 C13.8,-1.8 11.2,-0.2 7.8,-0.2 C4.2,-0.2 1.6,-2.2 0.8,-5.8 M0.8,-6.4 V0" fill="none" stroke="#000" stroke-width="1.821" stroke-linecap="butt" stroke-linejoin="round"/></g>
<g transform="translate(763.60,352.50)"><path d="M0.5,-25.3 C5.7,-20.9 8.2,-14.9 8.2,-8.3 C8.2,-1.7 5.7,4.3 0.5,8.7 L-0.1,8.0 C4.2,3.7 6.2,-1.9 6.2,-8.3 C6.2,-14.7 4.2,-20.3 -0.1,-24.6 Z" fill="#000" fill-rule="evenodd" stroke="none"/></g>
<g transform="translate(696.50,436.20)"><path d="M8.1,-14.7 C7.6,-12.8 6.6,-12.0 5.6,-12.1 C4.2,-12.2 3.3,-13.2 3.4,-14.8 C3.6,-18.6 8.0,-21.1 13.0,-21.1 C17.4,-21.1 20.6,-20.0 20.6,-17.2 C20.6,-14.2 17.4,-12.2 12.8,-12.1 C16.4,-12.0 18.7,-10.4 18.7,-7.6 C18.7,-3.6 16.2,0.1 13.4,0.1 C11.8,0.1 11.2,-1.4 11.4,-3.0 C11.6,-4.4 12.0,-5.2 12.7,-5.9" fill="none" stroke="#000" stroke-width="1.200" stroke-linecap="butt" stroke-linejoin="round"/><path d="M12.0,-20.5 C10.9,-15.4 9.5,-10.4 7.9,-6.6 C6.5,-3.2 4.6,-0.7 2.6,-0.7 C1.5,-0.7 0.9,-1.5 1.0,-2.6 L0.1,-2.6 C-0.1,-0.8 1.0,0.5 2.7,0.5 C5.4,0.5 7.9,-2.2 9.5,-6.0 C11.1,-10.0 12.5,-15.0 13.6,-20.1 Z" fill="#000" fill-rule="evenodd" stroke="none"/><circle cx="1.70" cy="-3.30" r="1.15" fill="#000"/></g><g transform="translate(721.40,436.70)"><path d="M7.7,-25.3 C2.5,-20.9 0.0,-14.9 0.0,-8.3 C0.0,-1.7 2.5,4.3 7.7,8.7 L8.3,8.0 C4.0,3.7 2.0,-1.9 2.0,-8.3 C2.0,-14.7 4.0,-20.3 8.3,-24.6 Z" fill="#000" fill-rule="evenodd" stroke="none"/></g><g transform="translate(734.10,436.20)"><path d="M0.3,-9.6 C1.2,-12.6 2.6,-14.3 4.2,-14.3 C5.6,-14.3 6.2,-13.2 5.8,-11.2 L3.6,-0.4 M5.6,-10.2 C7.2,-12.8 9.4,-14.4 11.6,-14.4 C13.2,-14.4 14.4,-13.6 14.4,-12.4" fill="none" stroke="#000" stroke-width="1.350" stroke-linecap="butt" stroke-linejoin="round"/><circle cx="14.00" cy="-12.00" r="1.20" fill="#000"/></g>
<g transform="translate(750.80,444.80) scale(0.6700)"><path d="M0.3,-14.1 L3.7,-14.7 L2.0,-0.5 C7.8,-2.5 12.8,-7.8 14.4,-15.0" fill="none" stroke="#000" stroke-width="1.821" stroke-linecap="butt" stroke-linejoin="round"/></g>
<g transform="translate(763.60,436.70)"><path d="M0.5,-25.3 C5.7,-20.9 8.2,-14.9 8.2,-8.3 C8.2,-1.7 5.7,4.3 0.5,8.7 L-0.1,8.0 C4.2,3.7 6.2,-1.9 6.2,-8.3 C6.2,-14.7 4.2,-20.3 -0.1,-24.6 Z" fill="#000" fill-rule="evenodd" stroke="none"/></g>
<g transform="translate(306.60,603.80)"><path d="M4.9,-20.8 H12.6 M9.0,-20.8 L4.2,-0.5 M0.2,-0.5 H12.4 C14.0,-0.5 15.0,-2.4 15.6,-5.4" fill="none" stroke="#000" stroke-width="1.350" stroke-linecap="butt" stroke-linejoin="round"/></g>
<g transform="translate(326.70,611.00) scale(0.6700)"><path d="M0.3,-14.1 L3.7,-14.7 L2.0,-0.5 C7.8,-2.5 12.8,-7.8 14.4,-15.0" fill="none" stroke="#000" stroke-width="1.821" stroke-linecap="butt" stroke-linejoin="round"/></g>
<g transform="translate(339.00,611.00) scale(0.6700)"><path d="M2.4,-1.3 C2.6,1.2 1.8,3.2 0.4,4.6" fill="none" stroke="#000" stroke-width="1.821" stroke-linecap="butt" stroke-linejoin="round"/><circle cx="1.50" cy="-1.45" r="1.45" fill="#000"/></g>
<g transform="translate(343.70,611.00) scale(0.6700,0.6419)"><path d="M11.6,-10.6 C11.0,-13.0 9.2,-14.5 6.8,-14.5 C3.2,-14.5 0.7,-11.4 0.7,-7.3 C0.7,-3.2 3.3,-0.3 7.0,-0.3 C9.6,-0.3 11.4,-1.8 12.2,-4.2" fill="none" stroke="#000" stroke-width="1.821" stroke-linecap="butt" stroke-linejoin="round"/><circle cx="11.00" cy="-10.80" r="1.15" fill="#000"/></g><g transform="translate(353.50,611.00) scale(0.6700,0.6419)"><path d="M0.75,-7.40 A6.45,7.00 0 1,0 13.65,-7.40 A6.45,7.00 0 1,0 0.75,-7.40 Z" fill="none" stroke="#000" stroke-width="1.821" stroke-linecap="butt" stroke-linejoin="round"/></g><g transform="translate(364.90,611.00) scale(0.6700,0.6419)"><path d="M0.3,-14.2 H3.4 V-0.5 M0.3,-0.5 H7.4 M3.4,-9.6 C4.2,-12.6 6.2,-14.5 8.6,-14.5 C10.2,-14.5 11.4,-13.8 11.6,-12.8" fill="none" stroke="#000" stroke-width="1.821" stroke-linecap="butt" stroke-linejoin="round"/><circle cx="11.50" cy="-12.60" r="1.10" fill="#000"/></g><g transform="translate(377.20,611.00) scale(0.6700,0.6419)"><path d="M0.9,-8.2 H13.2 C13.3,-12.4 10.8,-14.5 7.2,-14.5 C3.4,-14.5 0.7,-11.4 0.7,-7.2 C0.7,-3.0 3.4,-0.3 7.4,-0.3 C10.2,-0.3 12.4,-1.6 13.4,-4.2" fill="none" stroke="#000" stroke-width="1.821" stroke-linecap="butt" stroke-linejoin="round"/></g>
<g transform="translate(407.10,603.80)"><path d="M6.9,-24.8 H0.7 V7.5 H6.9" fill="none" stroke="#000" stroke-width="1.350" stroke-linecap="butt" stroke-linejoin="round"/></g>
<g transform="translate(422.60,603.80)"><path d="M5.1,-21.3 V-0.5" fill="none" stroke="#000" stroke-width="1.890" stroke-linecap="butt" stroke-linejoin="round"/><path d="M0.5,-17.3 L4.6,-20.4 M0.4,-0.55 H9.3" fill="none" stroke="#000" stroke-width="1.147" stroke-linecap="butt" stroke-linejoin="round"/></g><g transform="translate(438.80,603.80)"><path d="M0.00,-10.85 A7.50,10.95 0 1,0 15.00,-10.85 A7.50,10.95 0 1,0 0.00,-10.85 Z M1.65,-10.85 A5.85,9.90 0 1,0 13.35,-10.85 A5.85,9.90 0 1,0 1.65,-10.85 Z" fill="#000" fill-rule="evenodd" stroke="none"/></g>
<g transform="translate(457.30,589.30) scale(0.6250)"><path d="M2.0,-20.9 L0.9,-11.2 C2.4,-13.4 4.6,-14.4 7.0,-14.4 C11.2,-14.4 14.1,-11.6 14.1,-7.4 C14.1,-3.2 11.0,-0.5 7.0,-0.5 C3.6,-0.5 1.0,-2.2 0.8,-4.8 M2.0,-20.7 C5.5,-20.0 9.5,-20.2 12.6,-21.2 C10.0,-19.4 5.5,-19.2 2.0,-20.2" fill="none" stroke="#000" stroke-width="1.952" stroke-linecap="butt" stroke-linejoin="round"/><circle cx="1.70" cy="-5.00" r="1.05" fill="#000"/></g><g transform="translate(471.30,589.30) scale(0.6250)"><path d="M5.1,-21.3 V-0.5" fill="none" stroke="#000" stroke-width="2.733" stroke-linecap="butt" stroke-linejoin="round"/><path d="M0.5,-17.3 L4.6,-20.4 M0.4,-0.55 H9.3" fill="none" stroke="#000" stroke-width="1.659" stroke-linecap="butt" stroke-linejoin="round"/></g>
<g transform="translate(497.60,603.80) scale(1.0000,0.9580)"><path d="M0.9,-8.2 H13.2 C13.3,-12.4 10.8,-14.5 7.2,-14.5 C3.4,-14.5 0.7,-11.4 0.7,-7.2 C0.7,-3.0 3.4,-0.3 7.4,-0.3 C10.2,-0.3 12.4,-1.6 13.4,-4.2" fill="none" stroke="#000" stroke-width="1.350" stroke-linecap="butt" stroke-linejoin="round"/></g><g transform="translate(515.80,603.80) scale(1.0000,0.9580)"><path d="M0.3,-14.2 H3.4 V-0.5 M0.3,-0.5 H7.4 M3.4,-9.6 C4.2,-12.6 6.2,-14.5 8.6,-14.5 C10.2,-14.5 11.4,-13.8 11.6,-12.8" fill="none" stroke="#000" stroke-width="1.350" stroke-linecap="butt" stroke-linejoin="round"/><circle cx="11.50" cy="-12.60" r="1.10" fill="#000"/></g><g transform="translate(531.90,603.80) scale(1.0000,0.9580)"><path d="M2.60,-9.90 A4.60,4.90 0 1,0 11.80,-9.90 A4.60,4.90 0 1,0 2.60,-9.90 Z M10.9,-12.9 C12.0,-13.8 13.2,-14.3 14.4,-14.3 M3.6,-6.3 C2.0,-5.2 1.4,-3.5 2.0,-2.1 C2.7,-0.4 4.4,0.1 7.0,0.1 L10.4,0.2 C12.8,0.4 14.0,1.8 14.0,3.8 C14.0,6.2 11.0,7.8 7.3,7.8 C3.5,7.8 0.7,6.3 0.7,4.0 C0.7,2.0 2.2,0.9 4.2,0.5" fill="none" stroke="#000" stroke-width="1.350" stroke-linecap="butt" stroke-linejoin="round"/><circle cx="14.00" cy="-14.10" r="0.95" fill="#000"/></g><g transform="translate(551.10,603.80) scale(1.0000,0.9580)"><path d="M11.1,-14.4 V-10.2 M11.1,-10.8 C10.4,-13.2 8.6,-14.6 6.1,-14.6 C3.2,-14.6 1.1,-13.2 1.1,-11.0 C1.1,-8.8 3.0,-8.0 6.2,-7.4 C9.8,-6.8 11.7,-5.8 11.7,-3.6 C11.7,-1.4 9.6,-0.2 6.6,-0.2 C3.6,-0.2 1.4,-1.6 0.6,-4.2 M0.6,-4.6 V0" fill="none" stroke="#000" stroke-width="1.350" stroke-linecap="butt" stroke-linejoin="round"/></g>
<g transform="translate(583.40,603.80) scale(1.0000,0.9580)"><path d="M11.1,-14.4 V-10.2 M11.1,-10.8 C10.4,-13.2 8.6,-14.6 6.1,-14.6 C3.2,-14.6 1.1,-13.2 1.1,-11.0 C1.1,-8.8 3.0,-8.0 6.2,-7.4 C9.8,-6.8 11.7,-5.8 11.7,-3.6 C11.7,-1.4 9.6,-0.2 6.6,-0.2 C3.6,-0.2 1.4,-1.6 0.6,-4.2 M0.6,-4.6 V0" fill="none" stroke="#000" stroke-width="1.350" stroke-linecap="butt" stroke-linejoin="round"/></g>
<path d="M600.70,583.00 H611.60" stroke="#000" stroke-width="1.00" fill="none"/>
<g transform="translate(616.80,589.20) scale(0.6250)"><path d="M5.1,-21.3 V-0.5" fill="none" stroke="#000" stroke-width="2.733" stroke-linecap="butt" stroke-linejoin="round"/><path d="M0.5,-17.3 L4.6,-20.4 M0.4,-0.55 H9.3" fill="none" stroke="#000" stroke-width="1.659" stroke-linecap="butt" stroke-linejoin="round"/></g>
<g transform="translate(628.40,603.80)"><path d="M0.1,-24.8 H6.3 V7.5 H0.1" fill="none" stroke="#000" stroke-width="1.350" stroke-linecap="butt" stroke-linejoin="round"/></g>
<g transform="translate(63.4,406.6) rotate(-90)">
<g transform="translate(0.20,0.00)"><path d="M8.1,-14.7 C7.6,-12.8 6.6,-12.0 5.6,-12.1 C4.2,-12.2 3.3,-13.2 3.4,-14.8 C3.6,-18.6 8.0,-21.1 13.0,-21.1 C17.4,-21.1 20.6,-20.0 20.6,-17.2 C20.6,-14.2 17.4,-12.2 12.8,-12.1 C16.4,-12.0 18.7,-10.4 18.7,-7.6 C18.7,-3.6 16.2,0.1 13.4,0.1 C11.8,0.1 11.2,-1.4 11.4,-3.0 C11.6,-4.4 12.0,-5.2 12.7,-5.9" fill="none" stroke="#000" stroke-width="1.200" stroke-linecap="butt" stroke-linejoin="round"/><path d="M12.0,-20.5 C10.9,-15.4 9.5,-10.4 7.9,-6.6 C6.5,-3.2 4.6,-0.7 2.6,-0.7 C1.5,-0.7 0.9,-1.5 1.0,-2.6 L0.1,-2.6 C-0.1,-0.8 1.0,0.5 2.7,0.5 C5.4,0.5 7.9,-2.2 9.5,-6.0 C11.1,-10.0 12.5,-15.0 13.6,-20.1 Z" fill="#000" fill-rule="evenodd" stroke="none"/><circle cx="1.70" cy="-3.30" r="1.15" fill="#000"/></g>
<g transform="translate(42.00,0.00)"><path d="M6.9,-24.8 H0.7 V7.5 H6.9" fill="none" stroke="#000" stroke-width="1.350" stroke-linecap="butt" stroke-linejoin="round"/></g>
<g transform="translate(57.10,0.00)"><path d="M5.1,-21.3 V-0.5" fill="none" stroke="#000" stroke-width="1.890" stroke-linecap="butt" stroke-linejoin="round"/><path d="M0.5,-17.3 L4.6,-20.4 M0.4,-0.55 H9.3" fill="none" stroke="#000" stroke-width="1.147" stroke-linecap="butt" stroke-linejoin="round"/></g><g transform="translate(73.50,0.00)"><path d="M0.00,-10.85 A7.50,10.95 0 1,0 15.00,-10.85 A7.50,10.95 0 1,0 0.00,-10.85 Z M1.65,-10.85 A5.85,9.90 0 1,0 13.35,-10.85 A5.85,9.90 0 1,0 1.65,-10.85 Z" fill="#000" fill-rule="evenodd" stroke="none"/></g>
<g transform="translate(94.80,-15.10) scale(0.6250)"><path d="M5.1,-21.3 V-0.5" fill="none" stroke="#000" stroke-width="2.733" stroke-linecap="butt" stroke-linejoin="round"/><path d="M0.5,-17.3 L4.6,-20.4 M0.4,-0.55 H9.3" fill="none" stroke="#000" stroke-width="1.659" stroke-linecap="butt" stroke-linejoin="round"/></g><g transform="translate(105.60,-15.10) scale(0.6250)"><path d="M13.5,-14.4 C13.5,-18.4 10.8,-21.1 7.0,-21.1 C3.4,-21.1 0.8,-18.4 0.8,-14.4 C0.8,-10.6 3.4,-8.0 6.8,-8.0 C10.6,-8.0 13.5,-10.8 13.5,-14.4 C13.7,-6.6 11.0,-0.5 5.8,-0.5 C3.2,-0.5 1.4,-1.8 1.2,-3.8" fill="none" stroke="#000" stroke-width="1.952" stroke-linecap="butt" stroke-linejoin="round"/><circle cx="2.10" cy="-4.00" r="1.05" fill="#000"/></g>
<g transform="translate(133.40,0.00) scale(1.0000,0.9580)"><path d="M0.9,-8.2 H13.2 C13.3,-12.4 10.8,-14.5 7.2,-14.5 C3.4,-14.5 0.7,-11.4 0.7,-7.2 C0.7,-3.0 3.4,-0.3 7.4,-0.3 C10.2,-0.3 12.4,-1.6 13.4,-4.2" fill="none" stroke="#000" stroke-width="1.350" stroke-linecap="butt" stroke-linejoin="round"/></g><g transform="translate(151.60,0.00) scale(1.0000,0.9580)"><path d="M0.3,-14.2 H3.4 V-0.5 M0.3,-0.5 H7.4 M3.4,-9.6 C4.2,-12.6 6.2,-14.5 8.6,-14.5 C10.2,-14.5 11.4,-13.8 11.6,-12.8" fill="none" stroke="#000" stroke-width="1.350" stroke-linecap="butt" stroke-linejoin="round"/><circle cx="11.50" cy="-12.60" r="1.10" fill="#000"/></g><g transform="translate(167.70,0.00) scale(1.0000,0.9580)"><path d="M2.60,-9.90 A4.60,4.90 0 1,0 11.80,-9.90 A4.60,4.90 0 1,0 2.60,-9.90 Z M10.9,-12.9 C12.0,-13.8 13.2,-14.3 14.4,-14.3 M3.6,-6.3 C2.0,-5.2 1.4,-3.5 2.0,-2.1 C2.7,-0.4 4.4,0.1 7.0,0.1 L10.4,0.2 C12.8,0.4 14.0,1.8 14.0,3.8 C14.0,6.2 11.0,7.8 7.3,7.8 C3.5,7.8 0.7,6.3 0.7,4.0 C0.7,2.0 2.2,0.9 4.2,0.5" fill="none" stroke="#000" stroke-width="1.350" stroke-linecap="butt" stroke-linejoin="round"/><circle cx="14.00" cy="-14.10" r="0.95" fill="#000"/></g><g transform="translate(186.90,0.00) scale(1.0000,0.9580)"><path d="M11.1,-14.4 V-10.2 M11.1,-10.8 C10.4,-13.2 8.6,-14.6 6.1,-14.6 C3.2,-14.6 1.1,-13.2 1.1,-11.0 C1.1,-8.8 3.0,-8.0 6.2,-7.4 C9.8,-6.8 11.7,-5.8 11.7,-3.6 C11.7,-1.4 9.6,-0.2 6.6,-0.2 C3.6,-0.2 1.4,-1.6 0.6,-4.2 M0.6,-4.6 V0" fill="none" stroke="#000" stroke-width="1.350" stroke-linecap="butt" stroke-linejoin="round"/></g>
<g transform="translate(216.90,0.00) scale(1.0000,0.9580)"><path d="M2.60,-9.90 A4.60,4.90 0 1,0 11.80,-9.90 A4.60,4.90 0 1,0 2.60,-9.90 Z M10.9,-12.9 C12.0,-13.8 13.2,-14.3 14.4,-14.3 M3.6,-6.3 C2.0,-5.2 1.4,-3.5 2.0,-2.1 C2.7,-0.4 4.4,0.1 7.0,0.1 L10.4,0.2 C12.8,0.4 14.0,1.8 14.0,3.8 C14.0,6.2 11.0,7.8 7.3,7.8 C3.5,7.8 0.7,6.3 0.7,4.0 C0.7,2.0 2.2,0.9 4.2,0.5" fill="none" stroke="#000" stroke-width="1.350" stroke-linecap="butt" stroke-linejoin="round"/><circle cx="14.00" cy="-14.10" r="0.95" fill="#000"/></g>
<path d="M237.30,-20.80 H248.20" stroke="#000" stroke-width="1.00" fill="none"/>
<g transform="translate(253.60,-14.60) scale(0.6250)"><path d="M5.1,-21.3 V-0.5" fill="none" stroke="#000" stroke-width="2.733" stroke-linecap="butt" stroke-linejoin="round"/><path d="M0.5,-17.3 L4.6,-20.4 M0.4,-0.55 H9.3" fill="none" stroke="#000" stroke-width="1.659" stroke-linecap="butt" stroke-linejoin="round"/></g>
<g transform="translate(265.00,0.00)"><path d="M0.1,-24.8 H6.3 V7.5 H0.1" fill="none" stroke="#000" stroke-width="1.350" stroke-linecap="butt" stroke-linejoin="round"/></g>
</g>
</svg></body></html>
